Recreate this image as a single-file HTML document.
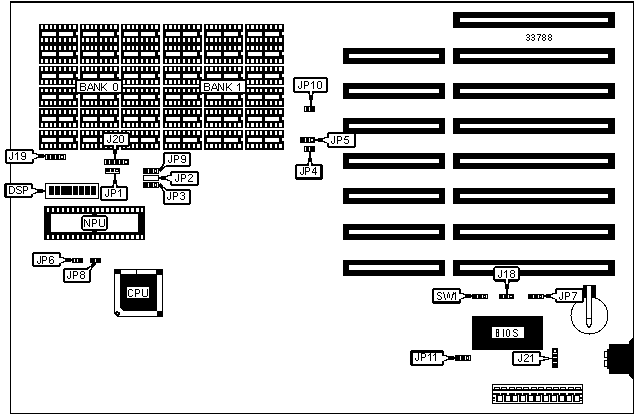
<!DOCTYPE html>
<html><head><meta charset="utf-8"><style>
html,body{margin:0;padding:0;background:#fff;}
svg{display:block;}
</style></head><body>
<svg width="635" height="415" viewBox="0 0 635 415" shape-rendering="crispEdges">
<rect width="635" height="415" fill="#fff"/>
<rect x="10" y="1" width="624" height="2" fill="#000"/>
<rect x="10" y="1" width="1" height="413" fill="#000"/>
<rect x="633" y="1" width="1" height="413" fill="#000"/>
<rect x="10" y="413" width="624" height="1" fill="#000"/>
<rect x="39" y="24" width="39" height="40" fill="#000"/>
<rect x="39" y="66" width="39" height="19" fill="#000"/>
<rect x="39" y="87" width="39" height="20" fill="#000"/>
<rect x="39" y="108" width="39" height="20" fill="#000"/>
<rect x="39" y="130" width="39" height="20" fill="#000"/>
<rect x="41" y="25" width="2" height="4" fill="#fff"/>
<rect x="45" y="25" width="3" height="4" fill="#fff"/>
<rect x="50" y="25" width="2" height="4" fill="#fff"/>
<rect x="54" y="25" width="2" height="4" fill="#fff"/>
<rect x="59" y="25" width="2" height="4" fill="#fff"/>
<rect x="64" y="25" width="2" height="4" fill="#fff"/>
<rect x="69" y="25" width="2" height="4" fill="#fff"/>
<rect x="73" y="25" width="3" height="4" fill="#fff"/>
<rect x="41" y="38" width="2" height="4" fill="#fff"/>
<rect x="45" y="38" width="3" height="4" fill="#fff"/>
<rect x="50" y="38" width="2" height="4" fill="#fff"/>
<rect x="54" y="38" width="2" height="4" fill="#fff"/>
<rect x="59" y="38" width="2" height="4" fill="#fff"/>
<rect x="64" y="38" width="2" height="4" fill="#fff"/>
<rect x="69" y="38" width="2" height="4" fill="#fff"/>
<rect x="73" y="38" width="3" height="4" fill="#fff"/>
<rect x="41" y="46" width="2" height="4" fill="#fff"/>
<rect x="45" y="46" width="3" height="4" fill="#fff"/>
<rect x="50" y="46" width="2" height="4" fill="#fff"/>
<rect x="54" y="46" width="2" height="4" fill="#fff"/>
<rect x="59" y="46" width="2" height="4" fill="#fff"/>
<rect x="64" y="46" width="2" height="4" fill="#fff"/>
<rect x="69" y="46" width="2" height="4" fill="#fff"/>
<rect x="73" y="46" width="3" height="4" fill="#fff"/>
<rect x="41" y="59" width="2" height="4" fill="#fff"/>
<rect x="45" y="59" width="3" height="4" fill="#fff"/>
<rect x="50" y="59" width="2" height="4" fill="#fff"/>
<rect x="54" y="59" width="2" height="4" fill="#fff"/>
<rect x="59" y="59" width="2" height="4" fill="#fff"/>
<rect x="64" y="59" width="2" height="4" fill="#fff"/>
<rect x="69" y="59" width="2" height="4" fill="#fff"/>
<rect x="73" y="59" width="3" height="4" fill="#fff"/>
<rect x="41" y="67" width="2" height="4" fill="#fff"/>
<rect x="45" y="67" width="3" height="4" fill="#fff"/>
<rect x="50" y="67" width="2" height="4" fill="#fff"/>
<rect x="54" y="67" width="2" height="4" fill="#fff"/>
<rect x="59" y="67" width="2" height="4" fill="#fff"/>
<rect x="64" y="67" width="2" height="4" fill="#fff"/>
<rect x="69" y="67" width="2" height="4" fill="#fff"/>
<rect x="73" y="67" width="3" height="4" fill="#fff"/>
<rect x="41" y="80" width="2" height="4" fill="#fff"/>
<rect x="45" y="80" width="3" height="4" fill="#fff"/>
<rect x="50" y="80" width="2" height="4" fill="#fff"/>
<rect x="54" y="80" width="2" height="4" fill="#fff"/>
<rect x="59" y="80" width="2" height="4" fill="#fff"/>
<rect x="64" y="80" width="2" height="4" fill="#fff"/>
<rect x="69" y="80" width="2" height="4" fill="#fff"/>
<rect x="73" y="80" width="3" height="4" fill="#fff"/>
<rect x="41" y="89" width="2" height="3" fill="#fff"/>
<rect x="45" y="89" width="3" height="3" fill="#fff"/>
<rect x="50" y="89" width="2" height="3" fill="#fff"/>
<rect x="54" y="89" width="2" height="3" fill="#fff"/>
<rect x="59" y="89" width="2" height="3" fill="#fff"/>
<rect x="64" y="89" width="2" height="3" fill="#fff"/>
<rect x="69" y="89" width="2" height="3" fill="#fff"/>
<rect x="73" y="89" width="3" height="3" fill="#fff"/>
<rect x="41" y="101" width="2" height="4" fill="#fff"/>
<rect x="45" y="101" width="3" height="4" fill="#fff"/>
<rect x="50" y="101" width="2" height="4" fill="#fff"/>
<rect x="54" y="101" width="2" height="4" fill="#fff"/>
<rect x="59" y="101" width="2" height="4" fill="#fff"/>
<rect x="64" y="101" width="2" height="4" fill="#fff"/>
<rect x="69" y="101" width="2" height="4" fill="#fff"/>
<rect x="73" y="101" width="3" height="4" fill="#fff"/>
<rect x="41" y="110" width="2" height="4" fill="#fff"/>
<rect x="45" y="110" width="3" height="4" fill="#fff"/>
<rect x="50" y="110" width="2" height="4" fill="#fff"/>
<rect x="54" y="110" width="2" height="4" fill="#fff"/>
<rect x="59" y="110" width="2" height="4" fill="#fff"/>
<rect x="64" y="110" width="2" height="4" fill="#fff"/>
<rect x="69" y="110" width="2" height="4" fill="#fff"/>
<rect x="73" y="110" width="3" height="4" fill="#fff"/>
<rect x="41" y="123" width="2" height="4" fill="#fff"/>
<rect x="45" y="123" width="3" height="4" fill="#fff"/>
<rect x="50" y="123" width="2" height="4" fill="#fff"/>
<rect x="54" y="123" width="2" height="4" fill="#fff"/>
<rect x="59" y="123" width="2" height="4" fill="#fff"/>
<rect x="64" y="123" width="2" height="4" fill="#fff"/>
<rect x="69" y="123" width="2" height="4" fill="#fff"/>
<rect x="73" y="123" width="3" height="4" fill="#fff"/>
<rect x="41" y="131" width="2" height="4" fill="#fff"/>
<rect x="45" y="131" width="3" height="4" fill="#fff"/>
<rect x="50" y="131" width="2" height="4" fill="#fff"/>
<rect x="54" y="131" width="2" height="4" fill="#fff"/>
<rect x="59" y="131" width="2" height="4" fill="#fff"/>
<rect x="64" y="131" width="2" height="4" fill="#fff"/>
<rect x="69" y="131" width="2" height="4" fill="#fff"/>
<rect x="73" y="131" width="3" height="4" fill="#fff"/>
<rect x="41" y="144" width="2" height="4" fill="#fff"/>
<rect x="45" y="144" width="3" height="4" fill="#fff"/>
<rect x="50" y="144" width="2" height="4" fill="#fff"/>
<rect x="54" y="144" width="2" height="4" fill="#fff"/>
<rect x="59" y="144" width="2" height="4" fill="#fff"/>
<rect x="64" y="144" width="2" height="4" fill="#fff"/>
<rect x="69" y="144" width="2" height="4" fill="#fff"/>
<rect x="73" y="144" width="3" height="4" fill="#fff"/>
<rect x="42" y="32" width="14" height="4" fill="#fff"/>
<rect x="59" y="32" width="14" height="4" fill="#fff"/>
<rect x="76" y="32" width="2" height="3" fill="#fff"/>
<rect x="42" y="52" width="14" height="4" fill="#fff"/>
<rect x="59" y="52" width="14" height="4" fill="#fff"/>
<rect x="76" y="52" width="2" height="3" fill="#fff"/>
<rect x="42" y="74" width="14" height="4" fill="#fff"/>
<rect x="59" y="74" width="14" height="4" fill="#fff"/>
<rect x="76" y="74" width="2" height="3" fill="#fff"/>
<rect x="42" y="95" width="14" height="4" fill="#fff"/>
<rect x="59" y="95" width="14" height="4" fill="#fff"/>
<rect x="76" y="95" width="2" height="3" fill="#fff"/>
<rect x="42" y="117" width="14" height="4" fill="#fff"/>
<rect x="59" y="117" width="14" height="4" fill="#fff"/>
<rect x="76" y="117" width="2" height="3" fill="#fff"/>
<rect x="42" y="138" width="14" height="4" fill="#fff"/>
<rect x="59" y="138" width="14" height="4" fill="#fff"/>
<rect x="76" y="138" width="2" height="3" fill="#fff"/>
<rect x="80" y="24" width="39" height="40" fill="#000"/>
<rect x="80" y="66" width="39" height="19" fill="#000"/>
<rect x="80" y="87" width="39" height="20" fill="#000"/>
<rect x="80" y="108" width="39" height="20" fill="#000"/>
<rect x="80" y="130" width="39" height="20" fill="#000"/>
<rect x="82" y="25" width="2" height="4" fill="#fff"/>
<rect x="86" y="25" width="3" height="4" fill="#fff"/>
<rect x="91" y="25" width="2" height="4" fill="#fff"/>
<rect x="95" y="25" width="2" height="4" fill="#fff"/>
<rect x="100" y="25" width="2" height="4" fill="#fff"/>
<rect x="105" y="25" width="2" height="4" fill="#fff"/>
<rect x="110" y="25" width="2" height="4" fill="#fff"/>
<rect x="114" y="25" width="3" height="4" fill="#fff"/>
<rect x="82" y="38" width="2" height="4" fill="#fff"/>
<rect x="86" y="38" width="3" height="4" fill="#fff"/>
<rect x="91" y="38" width="2" height="4" fill="#fff"/>
<rect x="95" y="38" width="2" height="4" fill="#fff"/>
<rect x="100" y="38" width="2" height="4" fill="#fff"/>
<rect x="105" y="38" width="2" height="4" fill="#fff"/>
<rect x="110" y="38" width="2" height="4" fill="#fff"/>
<rect x="114" y="38" width="3" height="4" fill="#fff"/>
<rect x="82" y="46" width="2" height="4" fill="#fff"/>
<rect x="86" y="46" width="3" height="4" fill="#fff"/>
<rect x="91" y="46" width="2" height="4" fill="#fff"/>
<rect x="95" y="46" width="2" height="4" fill="#fff"/>
<rect x="100" y="46" width="2" height="4" fill="#fff"/>
<rect x="105" y="46" width="2" height="4" fill="#fff"/>
<rect x="110" y="46" width="2" height="4" fill="#fff"/>
<rect x="114" y="46" width="3" height="4" fill="#fff"/>
<rect x="82" y="59" width="2" height="4" fill="#fff"/>
<rect x="86" y="59" width="3" height="4" fill="#fff"/>
<rect x="91" y="59" width="2" height="4" fill="#fff"/>
<rect x="95" y="59" width="2" height="4" fill="#fff"/>
<rect x="100" y="59" width="2" height="4" fill="#fff"/>
<rect x="105" y="59" width="2" height="4" fill="#fff"/>
<rect x="110" y="59" width="2" height="4" fill="#fff"/>
<rect x="114" y="59" width="3" height="4" fill="#fff"/>
<rect x="82" y="67" width="2" height="4" fill="#fff"/>
<rect x="86" y="67" width="3" height="4" fill="#fff"/>
<rect x="91" y="67" width="2" height="4" fill="#fff"/>
<rect x="95" y="67" width="2" height="4" fill="#fff"/>
<rect x="100" y="67" width="2" height="4" fill="#fff"/>
<rect x="105" y="67" width="2" height="4" fill="#fff"/>
<rect x="110" y="67" width="2" height="4" fill="#fff"/>
<rect x="114" y="67" width="3" height="4" fill="#fff"/>
<rect x="82" y="80" width="2" height="4" fill="#fff"/>
<rect x="86" y="80" width="3" height="4" fill="#fff"/>
<rect x="91" y="80" width="2" height="4" fill="#fff"/>
<rect x="95" y="80" width="2" height="4" fill="#fff"/>
<rect x="100" y="80" width="2" height="4" fill="#fff"/>
<rect x="105" y="80" width="2" height="4" fill="#fff"/>
<rect x="110" y="80" width="2" height="4" fill="#fff"/>
<rect x="114" y="80" width="3" height="4" fill="#fff"/>
<rect x="82" y="89" width="2" height="3" fill="#fff"/>
<rect x="86" y="89" width="3" height="3" fill="#fff"/>
<rect x="91" y="89" width="2" height="3" fill="#fff"/>
<rect x="95" y="89" width="2" height="3" fill="#fff"/>
<rect x="100" y="89" width="2" height="3" fill="#fff"/>
<rect x="105" y="89" width="2" height="3" fill="#fff"/>
<rect x="110" y="89" width="2" height="3" fill="#fff"/>
<rect x="114" y="89" width="3" height="3" fill="#fff"/>
<rect x="82" y="101" width="2" height="4" fill="#fff"/>
<rect x="86" y="101" width="3" height="4" fill="#fff"/>
<rect x="91" y="101" width="2" height="4" fill="#fff"/>
<rect x="95" y="101" width="2" height="4" fill="#fff"/>
<rect x="100" y="101" width="2" height="4" fill="#fff"/>
<rect x="105" y="101" width="2" height="4" fill="#fff"/>
<rect x="110" y="101" width="2" height="4" fill="#fff"/>
<rect x="114" y="101" width="3" height="4" fill="#fff"/>
<rect x="82" y="110" width="2" height="4" fill="#fff"/>
<rect x="86" y="110" width="3" height="4" fill="#fff"/>
<rect x="91" y="110" width="2" height="4" fill="#fff"/>
<rect x="95" y="110" width="2" height="4" fill="#fff"/>
<rect x="100" y="110" width="2" height="4" fill="#fff"/>
<rect x="105" y="110" width="2" height="4" fill="#fff"/>
<rect x="110" y="110" width="2" height="4" fill="#fff"/>
<rect x="114" y="110" width="3" height="4" fill="#fff"/>
<rect x="82" y="123" width="2" height="4" fill="#fff"/>
<rect x="86" y="123" width="3" height="4" fill="#fff"/>
<rect x="91" y="123" width="2" height="4" fill="#fff"/>
<rect x="95" y="123" width="2" height="4" fill="#fff"/>
<rect x="100" y="123" width="2" height="4" fill="#fff"/>
<rect x="105" y="123" width="2" height="4" fill="#fff"/>
<rect x="110" y="123" width="2" height="4" fill="#fff"/>
<rect x="114" y="123" width="3" height="4" fill="#fff"/>
<rect x="82" y="131" width="2" height="4" fill="#fff"/>
<rect x="86" y="131" width="3" height="4" fill="#fff"/>
<rect x="91" y="131" width="2" height="4" fill="#fff"/>
<rect x="95" y="131" width="2" height="4" fill="#fff"/>
<rect x="100" y="131" width="2" height="4" fill="#fff"/>
<rect x="105" y="131" width="2" height="4" fill="#fff"/>
<rect x="110" y="131" width="2" height="4" fill="#fff"/>
<rect x="114" y="131" width="3" height="4" fill="#fff"/>
<rect x="82" y="144" width="2" height="4" fill="#fff"/>
<rect x="86" y="144" width="3" height="4" fill="#fff"/>
<rect x="91" y="144" width="2" height="4" fill="#fff"/>
<rect x="95" y="144" width="2" height="4" fill="#fff"/>
<rect x="100" y="144" width="2" height="4" fill="#fff"/>
<rect x="105" y="144" width="2" height="4" fill="#fff"/>
<rect x="110" y="144" width="2" height="4" fill="#fff"/>
<rect x="114" y="144" width="3" height="4" fill="#fff"/>
<rect x="83" y="32" width="14" height="4" fill="#fff"/>
<rect x="100" y="32" width="14" height="4" fill="#fff"/>
<rect x="117" y="32" width="2" height="3" fill="#fff"/>
<rect x="83" y="52" width="14" height="4" fill="#fff"/>
<rect x="100" y="52" width="14" height="4" fill="#fff"/>
<rect x="117" y="52" width="2" height="3" fill="#fff"/>
<rect x="83" y="74" width="14" height="4" fill="#fff"/>
<rect x="100" y="74" width="14" height="4" fill="#fff"/>
<rect x="117" y="74" width="2" height="3" fill="#fff"/>
<rect x="83" y="95" width="14" height="4" fill="#fff"/>
<rect x="100" y="95" width="14" height="4" fill="#fff"/>
<rect x="117" y="95" width="2" height="3" fill="#fff"/>
<rect x="83" y="117" width="14" height="4" fill="#fff"/>
<rect x="100" y="117" width="14" height="4" fill="#fff"/>
<rect x="117" y="117" width="2" height="3" fill="#fff"/>
<rect x="83" y="138" width="14" height="4" fill="#fff"/>
<rect x="100" y="138" width="14" height="4" fill="#fff"/>
<rect x="117" y="138" width="2" height="3" fill="#fff"/>
<rect x="121" y="24" width="39" height="40" fill="#000"/>
<rect x="121" y="66" width="39" height="19" fill="#000"/>
<rect x="121" y="87" width="39" height="20" fill="#000"/>
<rect x="121" y="108" width="39" height="20" fill="#000"/>
<rect x="121" y="130" width="39" height="20" fill="#000"/>
<rect x="123" y="25" width="2" height="4" fill="#fff"/>
<rect x="127" y="25" width="3" height="4" fill="#fff"/>
<rect x="132" y="25" width="2" height="4" fill="#fff"/>
<rect x="136" y="25" width="2" height="4" fill="#fff"/>
<rect x="141" y="25" width="2" height="4" fill="#fff"/>
<rect x="146" y="25" width="2" height="4" fill="#fff"/>
<rect x="151" y="25" width="2" height="4" fill="#fff"/>
<rect x="155" y="25" width="3" height="4" fill="#fff"/>
<rect x="123" y="38" width="2" height="4" fill="#fff"/>
<rect x="127" y="38" width="3" height="4" fill="#fff"/>
<rect x="132" y="38" width="2" height="4" fill="#fff"/>
<rect x="136" y="38" width="2" height="4" fill="#fff"/>
<rect x="141" y="38" width="2" height="4" fill="#fff"/>
<rect x="146" y="38" width="2" height="4" fill="#fff"/>
<rect x="151" y="38" width="2" height="4" fill="#fff"/>
<rect x="155" y="38" width="3" height="4" fill="#fff"/>
<rect x="123" y="46" width="2" height="4" fill="#fff"/>
<rect x="127" y="46" width="3" height="4" fill="#fff"/>
<rect x="132" y="46" width="2" height="4" fill="#fff"/>
<rect x="136" y="46" width="2" height="4" fill="#fff"/>
<rect x="141" y="46" width="2" height="4" fill="#fff"/>
<rect x="146" y="46" width="2" height="4" fill="#fff"/>
<rect x="151" y="46" width="2" height="4" fill="#fff"/>
<rect x="155" y="46" width="3" height="4" fill="#fff"/>
<rect x="123" y="59" width="2" height="4" fill="#fff"/>
<rect x="127" y="59" width="3" height="4" fill="#fff"/>
<rect x="132" y="59" width="2" height="4" fill="#fff"/>
<rect x="136" y="59" width="2" height="4" fill="#fff"/>
<rect x="141" y="59" width="2" height="4" fill="#fff"/>
<rect x="146" y="59" width="2" height="4" fill="#fff"/>
<rect x="151" y="59" width="2" height="4" fill="#fff"/>
<rect x="155" y="59" width="3" height="4" fill="#fff"/>
<rect x="123" y="67" width="2" height="4" fill="#fff"/>
<rect x="127" y="67" width="3" height="4" fill="#fff"/>
<rect x="132" y="67" width="2" height="4" fill="#fff"/>
<rect x="136" y="67" width="2" height="4" fill="#fff"/>
<rect x="141" y="67" width="2" height="4" fill="#fff"/>
<rect x="146" y="67" width="2" height="4" fill="#fff"/>
<rect x="151" y="67" width="2" height="4" fill="#fff"/>
<rect x="155" y="67" width="3" height="4" fill="#fff"/>
<rect x="123" y="80" width="2" height="4" fill="#fff"/>
<rect x="127" y="80" width="3" height="4" fill="#fff"/>
<rect x="132" y="80" width="2" height="4" fill="#fff"/>
<rect x="136" y="80" width="2" height="4" fill="#fff"/>
<rect x="141" y="80" width="2" height="4" fill="#fff"/>
<rect x="146" y="80" width="2" height="4" fill="#fff"/>
<rect x="151" y="80" width="2" height="4" fill="#fff"/>
<rect x="155" y="80" width="3" height="4" fill="#fff"/>
<rect x="123" y="89" width="2" height="3" fill="#fff"/>
<rect x="127" y="89" width="3" height="3" fill="#fff"/>
<rect x="132" y="89" width="2" height="3" fill="#fff"/>
<rect x="136" y="89" width="2" height="3" fill="#fff"/>
<rect x="141" y="89" width="2" height="3" fill="#fff"/>
<rect x="146" y="89" width="2" height="3" fill="#fff"/>
<rect x="151" y="89" width="2" height="3" fill="#fff"/>
<rect x="155" y="89" width="3" height="3" fill="#fff"/>
<rect x="123" y="101" width="2" height="4" fill="#fff"/>
<rect x="127" y="101" width="3" height="4" fill="#fff"/>
<rect x="132" y="101" width="2" height="4" fill="#fff"/>
<rect x="136" y="101" width="2" height="4" fill="#fff"/>
<rect x="141" y="101" width="2" height="4" fill="#fff"/>
<rect x="146" y="101" width="2" height="4" fill="#fff"/>
<rect x="151" y="101" width="2" height="4" fill="#fff"/>
<rect x="155" y="101" width="3" height="4" fill="#fff"/>
<rect x="123" y="110" width="2" height="4" fill="#fff"/>
<rect x="127" y="110" width="3" height="4" fill="#fff"/>
<rect x="132" y="110" width="2" height="4" fill="#fff"/>
<rect x="136" y="110" width="2" height="4" fill="#fff"/>
<rect x="141" y="110" width="2" height="4" fill="#fff"/>
<rect x="146" y="110" width="2" height="4" fill="#fff"/>
<rect x="151" y="110" width="2" height="4" fill="#fff"/>
<rect x="155" y="110" width="3" height="4" fill="#fff"/>
<rect x="123" y="123" width="2" height="4" fill="#fff"/>
<rect x="127" y="123" width="3" height="4" fill="#fff"/>
<rect x="132" y="123" width="2" height="4" fill="#fff"/>
<rect x="136" y="123" width="2" height="4" fill="#fff"/>
<rect x="141" y="123" width="2" height="4" fill="#fff"/>
<rect x="146" y="123" width="2" height="4" fill="#fff"/>
<rect x="151" y="123" width="2" height="4" fill="#fff"/>
<rect x="155" y="123" width="3" height="4" fill="#fff"/>
<rect x="123" y="131" width="2" height="4" fill="#fff"/>
<rect x="127" y="131" width="3" height="4" fill="#fff"/>
<rect x="132" y="131" width="2" height="4" fill="#fff"/>
<rect x="136" y="131" width="2" height="4" fill="#fff"/>
<rect x="141" y="131" width="2" height="4" fill="#fff"/>
<rect x="146" y="131" width="2" height="4" fill="#fff"/>
<rect x="151" y="131" width="2" height="4" fill="#fff"/>
<rect x="155" y="131" width="3" height="4" fill="#fff"/>
<rect x="123" y="144" width="2" height="4" fill="#fff"/>
<rect x="127" y="144" width="3" height="4" fill="#fff"/>
<rect x="132" y="144" width="2" height="4" fill="#fff"/>
<rect x="136" y="144" width="2" height="4" fill="#fff"/>
<rect x="141" y="144" width="2" height="4" fill="#fff"/>
<rect x="146" y="144" width="2" height="4" fill="#fff"/>
<rect x="151" y="144" width="2" height="4" fill="#fff"/>
<rect x="155" y="144" width="3" height="4" fill="#fff"/>
<rect x="124" y="32" width="14" height="4" fill="#fff"/>
<rect x="141" y="32" width="14" height="4" fill="#fff"/>
<rect x="158" y="32" width="2" height="3" fill="#fff"/>
<rect x="124" y="52" width="14" height="4" fill="#fff"/>
<rect x="141" y="52" width="14" height="4" fill="#fff"/>
<rect x="158" y="52" width="2" height="3" fill="#fff"/>
<rect x="124" y="74" width="14" height="4" fill="#fff"/>
<rect x="141" y="74" width="14" height="4" fill="#fff"/>
<rect x="158" y="74" width="2" height="3" fill="#fff"/>
<rect x="124" y="95" width="14" height="4" fill="#fff"/>
<rect x="141" y="95" width="14" height="4" fill="#fff"/>
<rect x="158" y="95" width="2" height="3" fill="#fff"/>
<rect x="124" y="117" width="14" height="4" fill="#fff"/>
<rect x="141" y="117" width="14" height="4" fill="#fff"/>
<rect x="158" y="117" width="2" height="3" fill="#fff"/>
<rect x="124" y="138" width="14" height="4" fill="#fff"/>
<rect x="141" y="138" width="14" height="4" fill="#fff"/>
<rect x="158" y="138" width="2" height="3" fill="#fff"/>
<rect x="163" y="24" width="39" height="40" fill="#000"/>
<rect x="163" y="66" width="39" height="19" fill="#000"/>
<rect x="163" y="87" width="39" height="20" fill="#000"/>
<rect x="163" y="108" width="39" height="20" fill="#000"/>
<rect x="163" y="130" width="39" height="20" fill="#000"/>
<rect x="165" y="25" width="2" height="4" fill="#fff"/>
<rect x="169" y="25" width="3" height="4" fill="#fff"/>
<rect x="174" y="25" width="2" height="4" fill="#fff"/>
<rect x="178" y="25" width="2" height="4" fill="#fff"/>
<rect x="183" y="25" width="2" height="4" fill="#fff"/>
<rect x="188" y="25" width="2" height="4" fill="#fff"/>
<rect x="193" y="25" width="2" height="4" fill="#fff"/>
<rect x="197" y="25" width="3" height="4" fill="#fff"/>
<rect x="165" y="38" width="2" height="4" fill="#fff"/>
<rect x="169" y="38" width="3" height="4" fill="#fff"/>
<rect x="174" y="38" width="2" height="4" fill="#fff"/>
<rect x="178" y="38" width="2" height="4" fill="#fff"/>
<rect x="183" y="38" width="2" height="4" fill="#fff"/>
<rect x="188" y="38" width="2" height="4" fill="#fff"/>
<rect x="193" y="38" width="2" height="4" fill="#fff"/>
<rect x="197" y="38" width="3" height="4" fill="#fff"/>
<rect x="165" y="46" width="2" height="4" fill="#fff"/>
<rect x="169" y="46" width="3" height="4" fill="#fff"/>
<rect x="174" y="46" width="2" height="4" fill="#fff"/>
<rect x="178" y="46" width="2" height="4" fill="#fff"/>
<rect x="183" y="46" width="2" height="4" fill="#fff"/>
<rect x="188" y="46" width="2" height="4" fill="#fff"/>
<rect x="193" y="46" width="2" height="4" fill="#fff"/>
<rect x="197" y="46" width="3" height="4" fill="#fff"/>
<rect x="165" y="59" width="2" height="4" fill="#fff"/>
<rect x="169" y="59" width="3" height="4" fill="#fff"/>
<rect x="174" y="59" width="2" height="4" fill="#fff"/>
<rect x="178" y="59" width="2" height="4" fill="#fff"/>
<rect x="183" y="59" width="2" height="4" fill="#fff"/>
<rect x="188" y="59" width="2" height="4" fill="#fff"/>
<rect x="193" y="59" width="2" height="4" fill="#fff"/>
<rect x="197" y="59" width="3" height="4" fill="#fff"/>
<rect x="165" y="67" width="2" height="4" fill="#fff"/>
<rect x="169" y="67" width="3" height="4" fill="#fff"/>
<rect x="174" y="67" width="2" height="4" fill="#fff"/>
<rect x="178" y="67" width="2" height="4" fill="#fff"/>
<rect x="183" y="67" width="2" height="4" fill="#fff"/>
<rect x="188" y="67" width="2" height="4" fill="#fff"/>
<rect x="193" y="67" width="2" height="4" fill="#fff"/>
<rect x="197" y="67" width="3" height="4" fill="#fff"/>
<rect x="165" y="80" width="2" height="4" fill="#fff"/>
<rect x="169" y="80" width="3" height="4" fill="#fff"/>
<rect x="174" y="80" width="2" height="4" fill="#fff"/>
<rect x="178" y="80" width="2" height="4" fill="#fff"/>
<rect x="183" y="80" width="2" height="4" fill="#fff"/>
<rect x="188" y="80" width="2" height="4" fill="#fff"/>
<rect x="193" y="80" width="2" height="4" fill="#fff"/>
<rect x="197" y="80" width="3" height="4" fill="#fff"/>
<rect x="165" y="89" width="2" height="3" fill="#fff"/>
<rect x="169" y="89" width="3" height="3" fill="#fff"/>
<rect x="174" y="89" width="2" height="3" fill="#fff"/>
<rect x="178" y="89" width="2" height="3" fill="#fff"/>
<rect x="183" y="89" width="2" height="3" fill="#fff"/>
<rect x="188" y="89" width="2" height="3" fill="#fff"/>
<rect x="193" y="89" width="2" height="3" fill="#fff"/>
<rect x="197" y="89" width="3" height="3" fill="#fff"/>
<rect x="165" y="101" width="2" height="4" fill="#fff"/>
<rect x="169" y="101" width="3" height="4" fill="#fff"/>
<rect x="174" y="101" width="2" height="4" fill="#fff"/>
<rect x="178" y="101" width="2" height="4" fill="#fff"/>
<rect x="183" y="101" width="2" height="4" fill="#fff"/>
<rect x="188" y="101" width="2" height="4" fill="#fff"/>
<rect x="193" y="101" width="2" height="4" fill="#fff"/>
<rect x="197" y="101" width="3" height="4" fill="#fff"/>
<rect x="165" y="110" width="2" height="4" fill="#fff"/>
<rect x="169" y="110" width="3" height="4" fill="#fff"/>
<rect x="174" y="110" width="2" height="4" fill="#fff"/>
<rect x="178" y="110" width="2" height="4" fill="#fff"/>
<rect x="183" y="110" width="2" height="4" fill="#fff"/>
<rect x="188" y="110" width="2" height="4" fill="#fff"/>
<rect x="193" y="110" width="2" height="4" fill="#fff"/>
<rect x="197" y="110" width="3" height="4" fill="#fff"/>
<rect x="165" y="123" width="2" height="4" fill="#fff"/>
<rect x="169" y="123" width="3" height="4" fill="#fff"/>
<rect x="174" y="123" width="2" height="4" fill="#fff"/>
<rect x="178" y="123" width="2" height="4" fill="#fff"/>
<rect x="183" y="123" width="2" height="4" fill="#fff"/>
<rect x="188" y="123" width="2" height="4" fill="#fff"/>
<rect x="193" y="123" width="2" height="4" fill="#fff"/>
<rect x="197" y="123" width="3" height="4" fill="#fff"/>
<rect x="165" y="131" width="2" height="4" fill="#fff"/>
<rect x="169" y="131" width="3" height="4" fill="#fff"/>
<rect x="174" y="131" width="2" height="4" fill="#fff"/>
<rect x="178" y="131" width="2" height="4" fill="#fff"/>
<rect x="183" y="131" width="2" height="4" fill="#fff"/>
<rect x="188" y="131" width="2" height="4" fill="#fff"/>
<rect x="193" y="131" width="2" height="4" fill="#fff"/>
<rect x="197" y="131" width="3" height="4" fill="#fff"/>
<rect x="165" y="144" width="2" height="4" fill="#fff"/>
<rect x="169" y="144" width="3" height="4" fill="#fff"/>
<rect x="174" y="144" width="2" height="4" fill="#fff"/>
<rect x="178" y="144" width="2" height="4" fill="#fff"/>
<rect x="183" y="144" width="2" height="4" fill="#fff"/>
<rect x="188" y="144" width="2" height="4" fill="#fff"/>
<rect x="193" y="144" width="2" height="4" fill="#fff"/>
<rect x="197" y="144" width="3" height="4" fill="#fff"/>
<rect x="166" y="32" width="14" height="4" fill="#fff"/>
<rect x="183" y="32" width="14" height="4" fill="#fff"/>
<rect x="200" y="32" width="2" height="3" fill="#fff"/>
<rect x="166" y="52" width="14" height="4" fill="#fff"/>
<rect x="183" y="52" width="14" height="4" fill="#fff"/>
<rect x="200" y="52" width="2" height="3" fill="#fff"/>
<rect x="166" y="74" width="14" height="4" fill="#fff"/>
<rect x="183" y="74" width="14" height="4" fill="#fff"/>
<rect x="200" y="74" width="2" height="3" fill="#fff"/>
<rect x="166" y="95" width="14" height="4" fill="#fff"/>
<rect x="183" y="95" width="14" height="4" fill="#fff"/>
<rect x="200" y="95" width="2" height="3" fill="#fff"/>
<rect x="166" y="117" width="14" height="4" fill="#fff"/>
<rect x="183" y="117" width="14" height="4" fill="#fff"/>
<rect x="200" y="117" width="2" height="3" fill="#fff"/>
<rect x="166" y="138" width="14" height="4" fill="#fff"/>
<rect x="183" y="138" width="14" height="4" fill="#fff"/>
<rect x="200" y="138" width="2" height="3" fill="#fff"/>
<rect x="204" y="24" width="39" height="40" fill="#000"/>
<rect x="204" y="66" width="39" height="19" fill="#000"/>
<rect x="204" y="87" width="39" height="20" fill="#000"/>
<rect x="204" y="108" width="39" height="20" fill="#000"/>
<rect x="204" y="130" width="39" height="20" fill="#000"/>
<rect x="206" y="25" width="2" height="4" fill="#fff"/>
<rect x="210" y="25" width="3" height="4" fill="#fff"/>
<rect x="215" y="25" width="2" height="4" fill="#fff"/>
<rect x="219" y="25" width="2" height="4" fill="#fff"/>
<rect x="224" y="25" width="2" height="4" fill="#fff"/>
<rect x="229" y="25" width="2" height="4" fill="#fff"/>
<rect x="234" y="25" width="2" height="4" fill="#fff"/>
<rect x="238" y="25" width="3" height="4" fill="#fff"/>
<rect x="206" y="38" width="2" height="4" fill="#fff"/>
<rect x="210" y="38" width="3" height="4" fill="#fff"/>
<rect x="215" y="38" width="2" height="4" fill="#fff"/>
<rect x="219" y="38" width="2" height="4" fill="#fff"/>
<rect x="224" y="38" width="2" height="4" fill="#fff"/>
<rect x="229" y="38" width="2" height="4" fill="#fff"/>
<rect x="234" y="38" width="2" height="4" fill="#fff"/>
<rect x="238" y="38" width="3" height="4" fill="#fff"/>
<rect x="206" y="46" width="2" height="4" fill="#fff"/>
<rect x="210" y="46" width="3" height="4" fill="#fff"/>
<rect x="215" y="46" width="2" height="4" fill="#fff"/>
<rect x="219" y="46" width="2" height="4" fill="#fff"/>
<rect x="224" y="46" width="2" height="4" fill="#fff"/>
<rect x="229" y="46" width="2" height="4" fill="#fff"/>
<rect x="234" y="46" width="2" height="4" fill="#fff"/>
<rect x="238" y="46" width="3" height="4" fill="#fff"/>
<rect x="206" y="59" width="2" height="4" fill="#fff"/>
<rect x="210" y="59" width="3" height="4" fill="#fff"/>
<rect x="215" y="59" width="2" height="4" fill="#fff"/>
<rect x="219" y="59" width="2" height="4" fill="#fff"/>
<rect x="224" y="59" width="2" height="4" fill="#fff"/>
<rect x="229" y="59" width="2" height="4" fill="#fff"/>
<rect x="234" y="59" width="2" height="4" fill="#fff"/>
<rect x="238" y="59" width="3" height="4" fill="#fff"/>
<rect x="206" y="67" width="2" height="4" fill="#fff"/>
<rect x="210" y="67" width="3" height="4" fill="#fff"/>
<rect x="215" y="67" width="2" height="4" fill="#fff"/>
<rect x="219" y="67" width="2" height="4" fill="#fff"/>
<rect x="224" y="67" width="2" height="4" fill="#fff"/>
<rect x="229" y="67" width="2" height="4" fill="#fff"/>
<rect x="234" y="67" width="2" height="4" fill="#fff"/>
<rect x="238" y="67" width="3" height="4" fill="#fff"/>
<rect x="206" y="80" width="2" height="4" fill="#fff"/>
<rect x="210" y="80" width="3" height="4" fill="#fff"/>
<rect x="215" y="80" width="2" height="4" fill="#fff"/>
<rect x="219" y="80" width="2" height="4" fill="#fff"/>
<rect x="224" y="80" width="2" height="4" fill="#fff"/>
<rect x="229" y="80" width="2" height="4" fill="#fff"/>
<rect x="234" y="80" width="2" height="4" fill="#fff"/>
<rect x="238" y="80" width="3" height="4" fill="#fff"/>
<rect x="206" y="89" width="2" height="3" fill="#fff"/>
<rect x="210" y="89" width="3" height="3" fill="#fff"/>
<rect x="215" y="89" width="2" height="3" fill="#fff"/>
<rect x="219" y="89" width="2" height="3" fill="#fff"/>
<rect x="224" y="89" width="2" height="3" fill="#fff"/>
<rect x="229" y="89" width="2" height="3" fill="#fff"/>
<rect x="234" y="89" width="2" height="3" fill="#fff"/>
<rect x="238" y="89" width="3" height="3" fill="#fff"/>
<rect x="206" y="101" width="2" height="4" fill="#fff"/>
<rect x="210" y="101" width="3" height="4" fill="#fff"/>
<rect x="215" y="101" width="2" height="4" fill="#fff"/>
<rect x="219" y="101" width="2" height="4" fill="#fff"/>
<rect x="224" y="101" width="2" height="4" fill="#fff"/>
<rect x="229" y="101" width="2" height="4" fill="#fff"/>
<rect x="234" y="101" width="2" height="4" fill="#fff"/>
<rect x="238" y="101" width="3" height="4" fill="#fff"/>
<rect x="206" y="110" width="2" height="4" fill="#fff"/>
<rect x="210" y="110" width="3" height="4" fill="#fff"/>
<rect x="215" y="110" width="2" height="4" fill="#fff"/>
<rect x="219" y="110" width="2" height="4" fill="#fff"/>
<rect x="224" y="110" width="2" height="4" fill="#fff"/>
<rect x="229" y="110" width="2" height="4" fill="#fff"/>
<rect x="234" y="110" width="2" height="4" fill="#fff"/>
<rect x="238" y="110" width="3" height="4" fill="#fff"/>
<rect x="206" y="123" width="2" height="4" fill="#fff"/>
<rect x="210" y="123" width="3" height="4" fill="#fff"/>
<rect x="215" y="123" width="2" height="4" fill="#fff"/>
<rect x="219" y="123" width="2" height="4" fill="#fff"/>
<rect x="224" y="123" width="2" height="4" fill="#fff"/>
<rect x="229" y="123" width="2" height="4" fill="#fff"/>
<rect x="234" y="123" width="2" height="4" fill="#fff"/>
<rect x="238" y="123" width="3" height="4" fill="#fff"/>
<rect x="206" y="131" width="2" height="4" fill="#fff"/>
<rect x="210" y="131" width="3" height="4" fill="#fff"/>
<rect x="215" y="131" width="2" height="4" fill="#fff"/>
<rect x="219" y="131" width="2" height="4" fill="#fff"/>
<rect x="224" y="131" width="2" height="4" fill="#fff"/>
<rect x="229" y="131" width="2" height="4" fill="#fff"/>
<rect x="234" y="131" width="2" height="4" fill="#fff"/>
<rect x="238" y="131" width="3" height="4" fill="#fff"/>
<rect x="206" y="144" width="2" height="4" fill="#fff"/>
<rect x="210" y="144" width="3" height="4" fill="#fff"/>
<rect x="215" y="144" width="2" height="4" fill="#fff"/>
<rect x="219" y="144" width="2" height="4" fill="#fff"/>
<rect x="224" y="144" width="2" height="4" fill="#fff"/>
<rect x="229" y="144" width="2" height="4" fill="#fff"/>
<rect x="234" y="144" width="2" height="4" fill="#fff"/>
<rect x="238" y="144" width="3" height="4" fill="#fff"/>
<rect x="207" y="32" width="14" height="4" fill="#fff"/>
<rect x="224" y="32" width="14" height="4" fill="#fff"/>
<rect x="241" y="32" width="2" height="3" fill="#fff"/>
<rect x="207" y="52" width="14" height="4" fill="#fff"/>
<rect x="224" y="52" width="14" height="4" fill="#fff"/>
<rect x="241" y="52" width="2" height="3" fill="#fff"/>
<rect x="207" y="74" width="14" height="4" fill="#fff"/>
<rect x="224" y="74" width="14" height="4" fill="#fff"/>
<rect x="241" y="74" width="2" height="3" fill="#fff"/>
<rect x="207" y="95" width="14" height="4" fill="#fff"/>
<rect x="224" y="95" width="14" height="4" fill="#fff"/>
<rect x="241" y="95" width="2" height="3" fill="#fff"/>
<rect x="207" y="117" width="14" height="4" fill="#fff"/>
<rect x="224" y="117" width="14" height="4" fill="#fff"/>
<rect x="241" y="117" width="2" height="3" fill="#fff"/>
<rect x="207" y="138" width="14" height="4" fill="#fff"/>
<rect x="224" y="138" width="14" height="4" fill="#fff"/>
<rect x="241" y="138" width="2" height="3" fill="#fff"/>
<rect x="245" y="24" width="39" height="40" fill="#000"/>
<rect x="245" y="66" width="39" height="19" fill="#000"/>
<rect x="245" y="87" width="39" height="20" fill="#000"/>
<rect x="245" y="108" width="39" height="20" fill="#000"/>
<rect x="245" y="130" width="39" height="20" fill="#000"/>
<rect x="247" y="25" width="2" height="4" fill="#fff"/>
<rect x="251" y="25" width="3" height="4" fill="#fff"/>
<rect x="256" y="25" width="2" height="4" fill="#fff"/>
<rect x="260" y="25" width="2" height="4" fill="#fff"/>
<rect x="265" y="25" width="2" height="4" fill="#fff"/>
<rect x="270" y="25" width="2" height="4" fill="#fff"/>
<rect x="275" y="25" width="2" height="4" fill="#fff"/>
<rect x="279" y="25" width="3" height="4" fill="#fff"/>
<rect x="247" y="38" width="2" height="4" fill="#fff"/>
<rect x="251" y="38" width="3" height="4" fill="#fff"/>
<rect x="256" y="38" width="2" height="4" fill="#fff"/>
<rect x="260" y="38" width="2" height="4" fill="#fff"/>
<rect x="265" y="38" width="2" height="4" fill="#fff"/>
<rect x="270" y="38" width="2" height="4" fill="#fff"/>
<rect x="275" y="38" width="2" height="4" fill="#fff"/>
<rect x="279" y="38" width="3" height="4" fill="#fff"/>
<rect x="247" y="46" width="2" height="4" fill="#fff"/>
<rect x="251" y="46" width="3" height="4" fill="#fff"/>
<rect x="256" y="46" width="2" height="4" fill="#fff"/>
<rect x="260" y="46" width="2" height="4" fill="#fff"/>
<rect x="265" y="46" width="2" height="4" fill="#fff"/>
<rect x="270" y="46" width="2" height="4" fill="#fff"/>
<rect x="275" y="46" width="2" height="4" fill="#fff"/>
<rect x="279" y="46" width="3" height="4" fill="#fff"/>
<rect x="247" y="59" width="2" height="4" fill="#fff"/>
<rect x="251" y="59" width="3" height="4" fill="#fff"/>
<rect x="256" y="59" width="2" height="4" fill="#fff"/>
<rect x="260" y="59" width="2" height="4" fill="#fff"/>
<rect x="265" y="59" width="2" height="4" fill="#fff"/>
<rect x="270" y="59" width="2" height="4" fill="#fff"/>
<rect x="275" y="59" width="2" height="4" fill="#fff"/>
<rect x="279" y="59" width="3" height="4" fill="#fff"/>
<rect x="247" y="67" width="2" height="4" fill="#fff"/>
<rect x="251" y="67" width="3" height="4" fill="#fff"/>
<rect x="256" y="67" width="2" height="4" fill="#fff"/>
<rect x="260" y="67" width="2" height="4" fill="#fff"/>
<rect x="265" y="67" width="2" height="4" fill="#fff"/>
<rect x="270" y="67" width="2" height="4" fill="#fff"/>
<rect x="275" y="67" width="2" height="4" fill="#fff"/>
<rect x="279" y="67" width="3" height="4" fill="#fff"/>
<rect x="247" y="80" width="2" height="4" fill="#fff"/>
<rect x="251" y="80" width="3" height="4" fill="#fff"/>
<rect x="256" y="80" width="2" height="4" fill="#fff"/>
<rect x="260" y="80" width="2" height="4" fill="#fff"/>
<rect x="265" y="80" width="2" height="4" fill="#fff"/>
<rect x="270" y="80" width="2" height="4" fill="#fff"/>
<rect x="275" y="80" width="2" height="4" fill="#fff"/>
<rect x="279" y="80" width="3" height="4" fill="#fff"/>
<rect x="247" y="89" width="2" height="3" fill="#fff"/>
<rect x="251" y="89" width="3" height="3" fill="#fff"/>
<rect x="256" y="89" width="2" height="3" fill="#fff"/>
<rect x="260" y="89" width="2" height="3" fill="#fff"/>
<rect x="265" y="89" width="2" height="3" fill="#fff"/>
<rect x="270" y="89" width="2" height="3" fill="#fff"/>
<rect x="275" y="89" width="2" height="3" fill="#fff"/>
<rect x="279" y="89" width="3" height="3" fill="#fff"/>
<rect x="247" y="101" width="2" height="4" fill="#fff"/>
<rect x="251" y="101" width="3" height="4" fill="#fff"/>
<rect x="256" y="101" width="2" height="4" fill="#fff"/>
<rect x="260" y="101" width="2" height="4" fill="#fff"/>
<rect x="265" y="101" width="2" height="4" fill="#fff"/>
<rect x="270" y="101" width="2" height="4" fill="#fff"/>
<rect x="275" y="101" width="2" height="4" fill="#fff"/>
<rect x="279" y="101" width="3" height="4" fill="#fff"/>
<rect x="247" y="110" width="2" height="4" fill="#fff"/>
<rect x="251" y="110" width="3" height="4" fill="#fff"/>
<rect x="256" y="110" width="2" height="4" fill="#fff"/>
<rect x="260" y="110" width="2" height="4" fill="#fff"/>
<rect x="265" y="110" width="2" height="4" fill="#fff"/>
<rect x="270" y="110" width="2" height="4" fill="#fff"/>
<rect x="275" y="110" width="2" height="4" fill="#fff"/>
<rect x="279" y="110" width="3" height="4" fill="#fff"/>
<rect x="247" y="123" width="2" height="4" fill="#fff"/>
<rect x="251" y="123" width="3" height="4" fill="#fff"/>
<rect x="256" y="123" width="2" height="4" fill="#fff"/>
<rect x="260" y="123" width="2" height="4" fill="#fff"/>
<rect x="265" y="123" width="2" height="4" fill="#fff"/>
<rect x="270" y="123" width="2" height="4" fill="#fff"/>
<rect x="275" y="123" width="2" height="4" fill="#fff"/>
<rect x="279" y="123" width="3" height="4" fill="#fff"/>
<rect x="247" y="131" width="2" height="4" fill="#fff"/>
<rect x="251" y="131" width="3" height="4" fill="#fff"/>
<rect x="256" y="131" width="2" height="4" fill="#fff"/>
<rect x="260" y="131" width="2" height="4" fill="#fff"/>
<rect x="265" y="131" width="2" height="4" fill="#fff"/>
<rect x="270" y="131" width="2" height="4" fill="#fff"/>
<rect x="275" y="131" width="2" height="4" fill="#fff"/>
<rect x="279" y="131" width="3" height="4" fill="#fff"/>
<rect x="247" y="144" width="2" height="4" fill="#fff"/>
<rect x="251" y="144" width="3" height="4" fill="#fff"/>
<rect x="256" y="144" width="2" height="4" fill="#fff"/>
<rect x="260" y="144" width="2" height="4" fill="#fff"/>
<rect x="265" y="144" width="2" height="4" fill="#fff"/>
<rect x="270" y="144" width="2" height="4" fill="#fff"/>
<rect x="275" y="144" width="2" height="4" fill="#fff"/>
<rect x="279" y="144" width="3" height="4" fill="#fff"/>
<rect x="248" y="32" width="14" height="4" fill="#fff"/>
<rect x="265" y="32" width="14" height="4" fill="#fff"/>
<rect x="282" y="32" width="2" height="3" fill="#fff"/>
<rect x="248" y="52" width="14" height="4" fill="#fff"/>
<rect x="265" y="52" width="14" height="4" fill="#fff"/>
<rect x="282" y="52" width="2" height="3" fill="#fff"/>
<rect x="248" y="74" width="14" height="4" fill="#fff"/>
<rect x="265" y="74" width="14" height="4" fill="#fff"/>
<rect x="282" y="74" width="2" height="3" fill="#fff"/>
<rect x="248" y="95" width="14" height="4" fill="#fff"/>
<rect x="265" y="95" width="14" height="4" fill="#fff"/>
<rect x="282" y="95" width="2" height="3" fill="#fff"/>
<rect x="248" y="117" width="14" height="4" fill="#fff"/>
<rect x="265" y="117" width="14" height="4" fill="#fff"/>
<rect x="282" y="117" width="2" height="3" fill="#fff"/>
<rect x="248" y="138" width="14" height="4" fill="#fff"/>
<rect x="265" y="138" width="14" height="4" fill="#fff"/>
<rect x="282" y="138" width="2" height="3" fill="#fff"/>
<rect x="453" y="12" width="162" height="16" fill="#000"/>
<rect x="460" y="18" width="148" height="4" fill="#fff"/>
<rect x="453" y="48" width="162" height="16" fill="#000"/>
<rect x="460" y="54" width="148" height="4" fill="#fff"/>
<rect x="343" y="48" width="102" height="16" fill="#000"/>
<rect x="349" y="54" width="90" height="4" fill="#fff"/>
<rect x="453" y="83" width="162" height="16" fill="#000"/>
<rect x="460" y="89" width="148" height="4" fill="#fff"/>
<rect x="343" y="83" width="102" height="16" fill="#000"/>
<rect x="349" y="89" width="90" height="4" fill="#fff"/>
<rect x="453" y="118" width="162" height="16" fill="#000"/>
<rect x="460" y="124" width="148" height="4" fill="#fff"/>
<rect x="343" y="118" width="102" height="16" fill="#000"/>
<rect x="349" y="124" width="90" height="4" fill="#fff"/>
<rect x="453" y="153" width="162" height="16" fill="#000"/>
<rect x="460" y="159" width="148" height="4" fill="#fff"/>
<rect x="343" y="153" width="102" height="16" fill="#000"/>
<rect x="349" y="159" width="90" height="4" fill="#fff"/>
<rect x="453" y="188" width="162" height="16" fill="#000"/>
<rect x="460" y="194" width="148" height="4" fill="#fff"/>
<rect x="343" y="188" width="102" height="16" fill="#000"/>
<rect x="349" y="194" width="90" height="4" fill="#fff"/>
<rect x="453" y="224" width="162" height="16" fill="#000"/>
<rect x="460" y="230" width="148" height="4" fill="#fff"/>
<rect x="343" y="224" width="102" height="16" fill="#000"/>
<rect x="349" y="230" width="90" height="4" fill="#fff"/>
<rect x="453" y="260" width="162" height="16" fill="#000"/>
<rect x="460" y="265" width="148" height="5" fill="#fff"/>
<rect x="343" y="260" width="102" height="16" fill="#000"/>
<rect x="349" y="265" width="90" height="5" fill="#fff"/>
<rect x="45" y="154" width="21" height="6" fill="#000"/>
<rect x="46" y="155" width="1" height="4" fill="#fff"/>
<rect x="50" y="155" width="1" height="4" fill="#fff"/>
<rect x="55" y="155" width="1" height="4" fill="#fff"/>
<rect x="59" y="155" width="1" height="4" fill="#fff"/>
<rect x="64" y="155" width="1" height="4" fill="#fff"/>
<rect x="61" y="156" width="2" height="2" fill="#fff"/>
<rect x="6" y="149" width="27" height="15" fill="#000"/>
<rect x="5" y="150" width="29" height="13" fill="#000"/>
<rect x="7" y="151" width="25" height="11" fill="#fff"/>
<polygon points="34.0,159.2 38.5,158.0 43.5,158.0 43.5,157.0 45.0,157.0 45.0,155.0 43.5,155.0 43.5,154.0 38.5,154.0 34.0,152.8" fill="#000"/>
<polygon points="31.4,158.5 34.0,158.5 39.0,156.0 34.0,153.5 31.4,153.5" fill="#fff"/>
<path d="M12 152h1v1h-1zM12 153h1v1h-1zM12 154h1v1h-1zM12 155h1v1h-1zM12 156h1v1h-1zM9 157h1v1h-1zM12 157h1v1h-1zM9 158h1v1h-1zM12 158h1v1h-1zM10 159h2v1h-2zM17 152h1v1h-1zM16 153h2v1h-2zM15 154h1v1h-1zM17 154h1v1h-1zM17 155h1v1h-1zM17 156h1v1h-1zM17 157h1v1h-1zM17 158h1v1h-1zM17 159h1v1h-1zM22 152h3v1h-3zM21 153h1v1h-1zM25 153h1v1h-1zM21 154h1v1h-1zM25 154h1v1h-1zM21 155h1v1h-1zM25 155h1v1h-1zM22 156h4v1h-4zM25 157h1v1h-1zM21 158h1v1h-1zM25 158h1v1h-1zM22 159h3v1h-3z" fill="#000"/>
<rect x="45" y="183" width="54" height="16" fill="#000"/>
<rect x="46" y="184" width="52" height="14" fill="#fff"/>
<rect x="49" y="186" width="5" height="9" fill="#000"/>
<rect x="55" y="186" width="5" height="9" fill="#000"/>
<rect x="61" y="186" width="5" height="9" fill="#000"/>
<rect x="67" y="186" width="5" height="9" fill="#000"/>
<rect x="73" y="186" width="5" height="9" fill="#000"/>
<rect x="79" y="186" width="5" height="9" fill="#000"/>
<rect x="85" y="186" width="5" height="9" fill="#000"/>
<rect x="91" y="186" width="5" height="9" fill="#000"/>
<rect x="66" y="186" width="1" height="9" fill="#000"/>
<rect x="5" y="183" width="27" height="15" fill="#000"/>
<rect x="4" y="184" width="29" height="13" fill="#000"/>
<rect x="7" y="185" width="24" height="11" fill="#fff"/>
<polygon points="33.0,194.2 37.5,193.0 42.5,193.0 42.5,192.0 45.0,192.0 45.0,190.0 42.5,190.0 42.5,189.0 37.5,189.0 33.0,187.8" fill="#000"/>
<polygon points="30.4,193.5 33.0,193.5 38.0,191.0 33.0,188.5 30.4,188.5" fill="#fff"/>
<path d="M9 186h4v1h-4zM9 187h1v1h-1zM13 187h1v1h-1zM9 188h1v1h-1zM14 188h1v1h-1zM9 189h1v1h-1zM14 189h1v1h-1zM9 190h1v1h-1zM14 190h1v1h-1zM9 191h1v1h-1zM14 191h1v1h-1zM9 192h1v1h-1zM13 192h1v1h-1zM9 193h4v1h-4zM17 186h4v1h-4zM16 187h1v1h-1zM21 187h1v1h-1zM16 188h1v1h-1zM17 189h2v1h-2zM19 190h2v1h-2zM21 191h1v1h-1zM16 192h1v1h-1zM21 192h1v1h-1zM17 193h4v1h-4zM23 186h4v1h-4zM23 187h1v1h-1zM27 187h1v1h-1zM23 188h1v1h-1zM27 188h1v1h-1zM23 189h1v1h-1zM27 189h1v1h-1zM23 190h4v1h-4zM23 191h1v1h-1zM23 192h1v1h-1zM23 193h1v1h-1z" fill="#000"/>
<rect x="104" y="159" width="25" height="6" fill="#000"/>
<rect x="105" y="160" width="1" height="4" fill="#fff"/>
<rect x="109" y="160" width="1" height="4" fill="#fff"/>
<rect x="114" y="160" width="1" height="4" fill="#fff"/>
<rect x="119" y="160" width="1" height="4" fill="#fff"/>
<rect x="123" y="160" width="1" height="4" fill="#fff"/>
<rect x="125" y="161" width="2" height="2" fill="#fff"/>
<rect x="103" y="132" width="26" height="15" fill="#000"/>
<rect x="102" y="133" width="28" height="13" fill="#000"/>
<rect x="104" y="134" width="24" height="11" fill="#fff"/>
<polygon points="112.2,147.0 113.0,150.5 113.0,153.5 114.0,153.5 114.0,159.0 116.0,159.0 116.0,153.5 117.0,153.5 117.0,150.5 117.8,147.0" fill="#000"/>
<polygon points="114.0,144.4 114.0,147.0 115.0,151.0 116.0,147.0 116.0,144.4" fill="#fff"/>
<path d="M110 135h1v1h-1zM110 136h1v1h-1zM110 137h1v1h-1zM110 138h1v1h-1zM110 139h1v1h-1zM107 140h1v1h-1zM110 140h1v1h-1zM107 141h1v1h-1zM110 141h1v1h-1zM108 142h2v1h-2zM114 135h3v1h-3zM113 136h1v1h-1zM117 136h1v1h-1zM117 137h1v1h-1zM116 138h1v1h-1zM115 139h1v1h-1zM114 140h1v1h-1zM113 141h1v1h-1zM113 142h5v1h-5zM120 135h3v1h-3zM119 136h1v1h-1zM123 136h1v1h-1zM119 137h1v1h-1zM123 137h1v1h-1zM119 138h1v1h-1zM123 138h1v1h-1zM119 139h1v1h-1zM123 139h1v1h-1zM119 140h1v1h-1zM123 140h1v1h-1zM119 141h1v1h-1zM123 141h1v1h-1zM120 142h3v1h-3z" fill="#000"/>
<rect x="105" y="168" width="15" height="6" fill="#000"/>
<rect x="106" y="172" width="13" height="1" fill="#fff"/>
<rect x="110" y="169" width="1" height="3" fill="#fff"/>
<rect x="114" y="169" width="1" height="3" fill="#fff"/>
<rect x="116" y="170" width="2" height="1" fill="#fff"/>
<rect x="101" y="186" width="26" height="15" fill="#000"/>
<rect x="100" y="187" width="28" height="13" fill="#000"/>
<rect x="102" y="188" width="24" height="11" fill="#fff"/>
<polygon points="117.8,186.0 117.0,182.5 117.0,179.5 116.0,179.5 116.0,174.0 114.0,174.0 114.0,179.5 113.0,179.5 113.0,182.5 112.2,186.0" fill="#000"/>
<polygon points="116.0,188.6 116.0,186.0 115.0,182.0 114.0,186.0 114.0,188.6" fill="#fff"/>
<path d="M108 189h1v1h-1zM108 190h1v1h-1zM108 191h1v1h-1zM108 192h1v1h-1zM108 193h1v1h-1zM105 194h1v1h-1zM108 194h1v1h-1zM105 195h1v1h-1zM108 195h1v1h-1zM106 196h2v1h-2zM111 189h4v1h-4zM111 190h1v1h-1zM115 190h1v1h-1zM111 191h1v1h-1zM115 191h1v1h-1zM111 192h1v1h-1zM115 192h1v1h-1zM111 193h4v1h-4zM111 194h1v1h-1zM111 195h1v1h-1zM111 196h1v1h-1zM120 189h1v1h-1zM119 190h2v1h-2zM118 191h1v1h-1zM120 191h1v1h-1zM120 192h1v1h-1zM120 193h1v1h-1zM120 194h1v1h-1zM120 195h1v1h-1zM120 196h1v1h-1z" fill="#000"/>
<rect x="143" y="168" width="16" height="6" fill="#000"/>
<rect x="148" y="169" width="1" height="4" fill="#fff"/>
<rect x="153" y="169" width="1" height="4" fill="#fff"/>
<rect x="157" y="169" width="1" height="4" fill="#fff"/>
<rect x="155" y="170" width="1" height="2" fill="#fff"/>
<rect x="143" y="175" width="16" height="6" fill="#000"/>
<rect x="144" y="176" width="14" height="4" fill="#fff"/>
<rect x="143" y="182" width="16" height="6" fill="#000"/>
<rect x="148" y="183" width="1" height="4" fill="#fff"/>
<rect x="153" y="183" width="1" height="4" fill="#fff"/>
<rect x="157" y="183" width="1" height="4" fill="#fff"/>
<rect x="155" y="184" width="1" height="2" fill="#fff"/>
<rect x="164" y="152" width="26" height="15" fill="#000"/>
<rect x="163" y="153" width="28" height="13" fill="#000"/>
<rect x="165" y="154" width="24" height="11" fill="#fff"/>
<polygon points="163.16,163.16 161.75,165.99 158.58,169.16 158.58,169.16 157.87,169.87 160.13,172.13 160.84,171.42 160.84,171.42 164.01,168.25 166.84,166.84" fill="#000"/>
<polygon points="165.92,162.81 164.36,164.36 162.53,167.47 165.64,165.64 167.19,164.08" fill="#fff"/>
<path d="M171 155h1v1h-1zM171 156h1v1h-1zM171 157h1v1h-1zM171 158h1v1h-1zM171 159h1v1h-1zM168 160h1v1h-1zM171 160h1v1h-1zM168 161h1v1h-1zM171 161h1v1h-1zM169 162h2v1h-2zM174 155h4v1h-4zM174 156h1v1h-1zM178 156h1v1h-1zM174 157h1v1h-1zM178 157h1v1h-1zM174 158h1v1h-1zM178 158h1v1h-1zM174 159h4v1h-4zM174 160h1v1h-1zM174 161h1v1h-1zM174 162h1v1h-1zM182 155h3v1h-3zM181 156h1v1h-1zM185 156h1v1h-1zM181 157h1v1h-1zM185 157h1v1h-1zM181 158h1v1h-1zM185 158h1v1h-1zM182 159h4v1h-4zM185 160h1v1h-1zM181 161h1v1h-1zM185 161h1v1h-1zM182 162h3v1h-3z" fill="#000"/>
<rect x="171" y="171" width="27" height="15" fill="#000"/>
<rect x="170" y="172" width="29" height="13" fill="#000"/>
<rect x="172" y="173" width="25" height="11" fill="#fff"/>
<polygon points="170.0,174.8 165.5,176.0 160.5,176.0 160.5,177.0 159.0,177.0 159.0,179.0 160.5,179.0 160.5,180.0 165.5,180.0 170.0,181.2" fill="#000"/>
<polygon points="172.6,175.5 170.0,175.5 165.0,178.0 170.0,180.5 172.6,180.5" fill="#fff"/>
<path d="M178 174h1v1h-1zM178 175h1v1h-1zM178 176h1v1h-1zM178 177h1v1h-1zM178 178h1v1h-1zM175 179h1v1h-1zM178 179h1v1h-1zM175 180h1v1h-1zM178 180h1v1h-1zM176 181h2v1h-2zM181 174h4v1h-4zM181 175h1v1h-1zM185 175h1v1h-1zM181 176h1v1h-1zM185 176h1v1h-1zM181 177h1v1h-1zM185 177h1v1h-1zM181 178h4v1h-4zM181 179h1v1h-1zM181 180h1v1h-1zM181 181h1v1h-1zM189 174h3v1h-3zM188 175h1v1h-1zM192 175h1v1h-1zM192 176h1v1h-1zM191 177h1v1h-1zM190 178h1v1h-1zM189 179h1v1h-1zM188 180h1v1h-1zM188 181h5v1h-5z" fill="#000"/>
<rect x="164" y="189" width="26" height="16" fill="#000"/>
<rect x="163" y="190" width="28" height="14" fill="#000"/>
<rect x="165" y="191" width="24" height="12" fill="#fff"/>
<polygon points="166.91,188.74 164.14,187.21 160.85,183.65 160.85,183.65 160.18,182.91 157.82,185.09 158.5,185.82 158.5,185.82 161.79,189.38 163.09,192.26" fill="#000"/>
<polygon points="167.15,191.51 165.66,189.89 162.63,187.93 164.34,191.11 165.83,192.73" fill="#fff"/>
<path d="M170 192h1v1h-1zM170 193h1v1h-1zM170 194h1v1h-1zM170 195h1v1h-1zM170 196h1v1h-1zM167 197h1v1h-1zM170 197h1v1h-1zM167 198h1v1h-1zM170 198h1v1h-1zM168 199h2v1h-2zM173 192h4v1h-4zM173 193h1v1h-1zM177 193h1v1h-1zM173 194h1v1h-1zM177 194h1v1h-1zM173 195h1v1h-1zM177 195h1v1h-1zM173 196h4v1h-4zM173 197h1v1h-1zM173 198h1v1h-1zM173 199h1v1h-1zM181 192h3v1h-3zM180 193h1v1h-1zM184 193h1v1h-1zM184 194h1v1h-1zM182 195h2v1h-2zM184 196h1v1h-1zM184 197h1v1h-1zM180 198h1v1h-1zM184 198h1v1h-1zM181 199h3v1h-3z" fill="#000"/>
<rect x="44" y="206" width="101" height="34" fill="#000"/>
<rect x="51" y="214" width="87" height="18" fill="#fff"/>
<rect x="47" y="208" width="2" height="4" fill="#fff"/>
<rect x="47" y="235" width="2" height="4" fill="#fff"/>
<rect x="52" y="208" width="2" height="4" fill="#fff"/>
<rect x="52" y="235" width="2" height="4" fill="#fff"/>
<rect x="57" y="208" width="2" height="4" fill="#fff"/>
<rect x="57" y="235" width="2" height="4" fill="#fff"/>
<rect x="62" y="208" width="2" height="4" fill="#fff"/>
<rect x="62" y="235" width="2" height="4" fill="#fff"/>
<rect x="67" y="208" width="2" height="4" fill="#fff"/>
<rect x="67" y="235" width="2" height="4" fill="#fff"/>
<rect x="72" y="208" width="2" height="4" fill="#fff"/>
<rect x="72" y="235" width="2" height="4" fill="#fff"/>
<rect x="77" y="208" width="2" height="4" fill="#fff"/>
<rect x="77" y="235" width="2" height="4" fill="#fff"/>
<rect x="82" y="208" width="2" height="4" fill="#fff"/>
<rect x="82" y="235" width="2" height="4" fill="#fff"/>
<rect x="87" y="208" width="2" height="4" fill="#fff"/>
<rect x="87" y="235" width="2" height="4" fill="#fff"/>
<rect x="92" y="208" width="2" height="4" fill="#fff"/>
<rect x="92" y="235" width="2" height="4" fill="#fff"/>
<rect x="96" y="208" width="3" height="4" fill="#fff"/>
<rect x="96" y="235" width="3" height="4" fill="#fff"/>
<rect x="101" y="208" width="3" height="4" fill="#fff"/>
<rect x="101" y="235" width="3" height="4" fill="#fff"/>
<rect x="106" y="208" width="3" height="4" fill="#fff"/>
<rect x="106" y="235" width="3" height="4" fill="#fff"/>
<rect x="111" y="208" width="3" height="4" fill="#fff"/>
<rect x="111" y="235" width="3" height="4" fill="#fff"/>
<rect x="116" y="208" width="3" height="4" fill="#fff"/>
<rect x="116" y="235" width="3" height="4" fill="#fff"/>
<rect x="121" y="208" width="3" height="4" fill="#fff"/>
<rect x="121" y="235" width="3" height="4" fill="#fff"/>
<rect x="126" y="208" width="3" height="4" fill="#fff"/>
<rect x="126" y="235" width="3" height="4" fill="#fff"/>
<rect x="131" y="208" width="3" height="4" fill="#fff"/>
<rect x="131" y="235" width="3" height="4" fill="#fff"/>
<rect x="136" y="208" width="3" height="4" fill="#fff"/>
<rect x="136" y="235" width="3" height="4" fill="#fff"/>
<rect x="141" y="208" width="2" height="4" fill="#fff"/>
<rect x="141" y="235" width="2" height="4" fill="#fff"/>
<rect x="92" y="214" width="5" height="18" fill="#000"/>
<rect x="83" y="215" width="23" height="16" fill="#000"/>
<rect x="82" y="216" width="25" height="14" fill="#000"/>
<rect x="81" y="217" width="27" height="12" fill="#000"/>
<rect x="83" y="217" width="23" height="12" fill="#fff"/>
<path d="M84 219h1v1h-1zM89 219h1v1h-1zM84 220h2v1h-2zM89 220h1v1h-1zM84 221h1v1h-1zM86 221h1v1h-1zM89 221h1v1h-1zM84 222h1v1h-1zM86 222h1v1h-1zM89 222h1v1h-1zM84 223h1v1h-1zM87 223h1v1h-1zM89 223h1v1h-1zM84 224h1v1h-1zM87 224h1v1h-1zM89 224h1v1h-1zM84 225h1v1h-1zM88 225h2v1h-2zM84 226h1v1h-1zM89 226h1v1h-1zM92 219h4v1h-4zM92 220h1v1h-1zM96 220h1v1h-1zM92 221h1v1h-1zM96 221h1v1h-1zM92 222h1v1h-1zM96 222h1v1h-1zM92 223h4v1h-4zM92 224h1v1h-1zM92 225h1v1h-1zM92 226h1v1h-1zM99 219h1v1h-1zM104 219h1v1h-1zM99 220h1v1h-1zM104 220h1v1h-1zM99 221h1v1h-1zM104 221h1v1h-1zM99 222h1v1h-1zM104 222h1v1h-1zM99 223h1v1h-1zM104 223h1v1h-1zM99 224h1v1h-1zM104 224h1v1h-1zM99 225h1v1h-1zM104 225h1v1h-1zM100 226h4v1h-4z" fill="#000"/>
<rect x="72" y="258" width="11" height="5" fill="#000"/>
<rect x="74" y="259" width="1" height="3" fill="#fff"/>
<rect x="77" y="259" width="1" height="3" fill="#fff"/>
<rect x="90" y="258" width="11" height="5" fill="#000"/>
<rect x="95" y="259" width="1" height="3" fill="#fff"/>
<rect x="33" y="252" width="27" height="15" fill="#000"/>
<rect x="32" y="253" width="29" height="13" fill="#000"/>
<rect x="34" y="254" width="25" height="11" fill="#fff"/>
<polygon points="61.0,263.2 65.5,262.0 70.5,262.0 70.5,261.0 72.0,261.0 72.0,259.0 70.5,259.0 70.5,258.0 65.5,258.0 61.0,256.8" fill="#000"/>
<polygon points="58.4,262.5 61.0,262.5 66.0,260.0 61.0,257.5 58.4,257.5" fill="#fff"/>
<path d="M40 256h1v1h-1zM40 257h1v1h-1zM40 258h1v1h-1zM40 259h1v1h-1zM40 260h1v1h-1zM37 261h1v1h-1zM40 261h1v1h-1zM37 262h1v1h-1zM40 262h1v1h-1zM38 263h2v1h-2zM42 256h4v1h-4zM42 257h1v1h-1zM46 257h1v1h-1zM42 258h1v1h-1zM46 258h1v1h-1zM42 259h1v1h-1zM46 259h1v1h-1zM42 260h4v1h-4zM42 261h1v1h-1zM42 262h1v1h-1zM42 263h1v1h-1zM50 256h3v1h-3zM49 257h1v1h-1zM53 257h1v1h-1zM49 258h1v1h-1zM49 259h1v1h-1zM51 259h2v1h-2zM49 260h2v1h-2zM53 260h1v1h-1zM49 261h1v1h-1zM53 261h1v1h-1zM49 262h1v1h-1zM53 262h1v1h-1zM50 263h3v1h-3z" fill="#000"/>
<rect x="64" y="268" width="26" height="15" fill="#000"/>
<rect x="63" y="269" width="28" height="13" fill="#000"/>
<rect x="65" y="270" width="24" height="11" fill="#fff"/>
<polygon points="90.91,271.26 92.21,268.38 95.5,264.82 95.5,264.82 96.18,264.09 93.82,261.91 93.15,262.65 93.15,262.65 89.86,266.21 87.09,267.74" fill="#000"/>
<polygon points="88.17,271.73 89.66,270.11 91.37,266.93 88.34,268.89 86.85,270.51" fill="#fff"/>
<path d="M70 271h1v1h-1zM70 272h1v1h-1zM70 273h1v1h-1zM70 274h1v1h-1zM70 275h1v1h-1zM67 276h1v1h-1zM70 276h1v1h-1zM67 277h1v1h-1zM70 277h1v1h-1zM68 278h2v1h-2zM73 271h4v1h-4zM73 272h1v1h-1zM77 272h1v1h-1zM73 273h1v1h-1zM77 273h1v1h-1zM73 274h1v1h-1zM77 274h1v1h-1zM73 275h4v1h-4zM73 276h1v1h-1zM73 277h1v1h-1zM73 278h1v1h-1zM81 271h3v1h-3zM80 272h1v1h-1zM84 272h1v1h-1zM80 273h1v1h-1zM84 273h1v1h-1zM81 274h3v1h-3zM80 275h1v1h-1zM84 275h1v1h-1zM80 276h1v1h-1zM84 276h1v1h-1zM80 277h1v1h-1zM84 277h1v1h-1zM81 278h3v1h-3z" fill="#000"/>
<rect x="114" y="269" width="49" height="48" fill="#000"/>
<rect x="115" y="270" width="47" height="46" fill="#fff"/>
<rect x="120" y="274" width="37" height="37" fill="#000"/>
<rect x="115" y="270" width="6" height="4" fill="#000"/>
<rect x="156" y="270" width="6" height="5" fill="#000"/>
<rect x="157" y="311" width="5" height="5" fill="#000"/>
<rect x="136" y="270" width="1" height="4" fill="#000"/>
<rect x="127" y="287" width="22" height="11" fill="#fff"/>
<polygon points="120,308 120,311 123,311" fill="#fff"/>
<polygon points="113.5,313.5 113.5,317.5 117.5,317.5" fill="#fff"/>
<polygon points="114,312.5 115,312.5 118.5,316 118.5,317 117.5,317 114,313.5" fill="#000"/>
<rect x="116" y="311" width="3" height="5" fill="#000"/>
<rect x="115" y="312" width="5" height="3" fill="#000"/>
<rect x="117" y="313" width="1" height="1" fill="#fff"/>
<rect x="118" y="311" width="1" height="1" fill="#fff"/>
<path d="M129 289h3v1h-3zM128 290h1v1h-1zM132 290h1v1h-1zM128 291h1v1h-1zM128 292h1v1h-1zM128 293h1v1h-1zM128 294h1v1h-1zM128 295h1v1h-1zM132 295h1v1h-1zM129 296h3v1h-3zM135 289h4v1h-4zM135 290h1v1h-1zM139 290h1v1h-1zM135 291h1v1h-1zM139 291h1v1h-1zM135 292h1v1h-1zM139 292h1v1h-1zM135 293h4v1h-4zM135 294h1v1h-1zM135 295h1v1h-1zM135 296h1v1h-1zM142 289h1v1h-1zM147 289h1v1h-1zM142 290h1v1h-1zM147 290h1v1h-1zM142 291h1v1h-1zM147 291h1v1h-1zM142 292h1v1h-1zM147 292h1v1h-1zM142 293h1v1h-1zM147 293h1v1h-1zM142 294h1v1h-1zM147 294h1v1h-1zM142 295h1v1h-1zM147 295h1v1h-1zM143 296h4v1h-4z" fill="#000"/>
<rect x="304" y="106" width="11" height="6" fill="#000"/>
<rect x="305" y="107" width="1" height="4" fill="#fff"/>
<rect x="309" y="107" width="1" height="4" fill="#fff"/>
<rect x="294" y="77" width="33" height="16" fill="#000"/>
<rect x="293" y="78" width="35" height="14" fill="#000"/>
<rect x="295" y="79" width="31" height="12" fill="#fff"/>
<polygon points="308.2,93.0 309.0,96.5 309.0,99.5 310.0,99.5 310.0,106.0 312.0,106.0 312.0,99.5 313.0,99.5 313.0,96.5 313.8,93.0" fill="#000"/>
<polygon points="310.0,90.4 310.0,93.0 311.0,97.0 312.0,93.0 312.0,90.4" fill="#fff"/>
<path d="M301 81h1v1h-1zM301 82h1v1h-1zM301 83h1v1h-1zM301 84h1v1h-1zM301 85h1v1h-1zM298 86h1v1h-1zM301 86h1v1h-1zM298 87h1v1h-1zM301 87h1v1h-1zM299 88h2v1h-2zM304 81h4v1h-4zM304 82h1v1h-1zM308 82h1v1h-1zM304 83h1v1h-1zM308 83h1v1h-1zM304 84h1v1h-1zM308 84h1v1h-1zM304 85h4v1h-4zM304 86h1v1h-1zM304 87h1v1h-1zM304 88h1v1h-1zM313 81h1v1h-1zM312 82h2v1h-2zM311 83h1v1h-1zM313 83h1v1h-1zM313 84h1v1h-1zM313 85h1v1h-1zM313 86h1v1h-1zM313 87h1v1h-1zM313 88h1v1h-1zM318 81h3v1h-3zM317 82h1v1h-1zM321 82h1v1h-1zM317 83h1v1h-1zM321 83h1v1h-1zM317 84h1v1h-1zM321 84h1v1h-1zM317 85h1v1h-1zM321 85h1v1h-1zM317 86h1v1h-1zM321 86h1v1h-1zM317 87h1v1h-1zM321 87h1v1h-1zM318 88h3v1h-3z" fill="#000"/>
<rect x="300" y="137" width="15" height="6" fill="#000"/>
<rect x="305" y="138" width="1" height="4" fill="#fff"/>
<rect x="309" y="138" width="1" height="4" fill="#fff"/>
<rect x="311" y="139" width="2" height="2" fill="#fff"/>
<rect x="304" y="146" width="11" height="6" fill="#000"/>
<rect x="305" y="147" width="1" height="4" fill="#fff"/>
<rect x="309" y="147" width="1" height="4" fill="#fff"/>
<rect x="328" y="132" width="27" height="16" fill="#000"/>
<rect x="327" y="133" width="29" height="14" fill="#000"/>
<rect x="329" y="134" width="25" height="12" fill="#fff"/>
<polygon points="327.0,136.8 322.5,138.0 317.5,138.0 317.5,139.0 315.0,139.0 315.0,141.0 317.5,141.0 317.5,142.0 322.5,142.0 327.0,143.2" fill="#000"/>
<polygon points="329.6,137.5 327.0,137.5 322.0,140.0 327.0,142.5 329.6,142.5" fill="#fff"/>
<path d="M334 136h1v1h-1zM334 137h1v1h-1zM334 138h1v1h-1zM334 139h1v1h-1zM334 140h1v1h-1zM331 141h1v1h-1zM334 141h1v1h-1zM331 142h1v1h-1zM334 142h1v1h-1zM332 143h2v1h-2zM337 136h4v1h-4zM337 137h1v1h-1zM341 137h1v1h-1zM337 138h1v1h-1zM341 138h1v1h-1zM337 139h1v1h-1zM341 139h1v1h-1zM337 140h4v1h-4zM337 141h1v1h-1zM337 142h1v1h-1zM337 143h1v1h-1zM345 136h4v1h-4zM345 137h1v1h-1zM344 138h1v1h-1zM344 139h4v1h-4zM348 140h1v1h-1zM348 141h1v1h-1zM344 142h1v1h-1zM348 142h1v1h-1zM345 143h3v1h-3z" fill="#000"/>
<rect x="296" y="164" width="26" height="16" fill="#000"/>
<rect x="295" y="165" width="28" height="14" fill="#000"/>
<rect x="297" y="166" width="23" height="11" fill="#fff"/>
<polygon points="312.8,164.0 312.0,160.5 312.0,157.5 311.0,157.5 311.0,152.0 309.0,152.0 309.0,157.5 308.0,157.5 308.0,160.5 307.2,164.0" fill="#000"/>
<polygon points="311.0,166.6 311.0,164.0 310.0,160.0 309.0,164.0 309.0,166.6" fill="#fff"/>
<path d="M303 167h1v1h-1zM303 168h1v1h-1zM303 169h1v1h-1zM303 170h1v1h-1zM303 171h1v1h-1zM300 172h1v1h-1zM303 172h1v1h-1zM300 173h1v1h-1zM303 173h1v1h-1zM301 174h2v1h-2zM305 167h4v1h-4zM305 168h1v1h-1zM309 168h1v1h-1zM305 169h1v1h-1zM309 169h1v1h-1zM305 170h1v1h-1zM309 170h1v1h-1zM305 171h4v1h-4zM305 172h1v1h-1zM305 173h1v1h-1zM305 174h1v1h-1zM315 167h1v1h-1zM314 168h2v1h-2zM313 169h1v1h-1zM315 169h1v1h-1zM313 170h1v1h-1zM315 170h1v1h-1zM312 171h1v1h-1zM315 171h1v1h-1zM312 172h5v1h-5zM315 173h1v1h-1zM315 174h1v1h-1z" fill="#000"/>
<rect x="499" y="294" width="15" height="5" fill="#000"/>
<rect x="503" y="295" width="1" height="3" fill="#fff"/>
<rect x="508" y="295" width="1" height="3" fill="#fff"/>
<rect x="510" y="296" width="2" height="1" fill="#fff"/>
<rect x="472" y="294" width="16" height="5" fill="#000"/>
<rect x="477" y="295" width="1" height="3" fill="#fff"/>
<rect x="482" y="295" width="1" height="3" fill="#fff"/>
<rect x="486" y="295" width="1" height="3" fill="#fff"/>
<rect x="484" y="296" width="1" height="1" fill="#fff"/>
<rect x="528" y="294" width="16" height="5" fill="#000"/>
<rect x="533" y="295" width="1" height="3" fill="#fff"/>
<rect x="538" y="295" width="1" height="3" fill="#fff"/>
<rect x="542" y="295" width="1" height="3" fill="#fff"/>
<rect x="540" y="296" width="1" height="1" fill="#fff"/>
<rect x="495" y="266" width="23" height="16" fill="#000"/>
<rect x="494" y="267" width="25" height="14" fill="#000"/>
<rect x="493" y="268" width="27" height="12" fill="#000"/>
<rect x="495" y="268" width="23" height="11" fill="#fff"/>
<polygon points="504.2,282.0 505.0,285.5 505.0,288.5 506.0,288.5 506.0,294.0 508.0,294.0 508.0,288.5 509.0,288.5 509.0,285.5 509.8,282.0" fill="#000"/>
<polygon points="506.0,279.4 506.0,282.0 507.0,286.0 508.0,282.0 508.0,279.4" fill="#fff"/>
<path d="M501 270h1v1h-1zM501 271h1v1h-1zM501 272h1v1h-1zM501 273h1v1h-1zM501 274h1v1h-1zM498 275h1v1h-1zM501 275h1v1h-1zM498 276h1v1h-1zM501 276h1v1h-1zM499 277h2v1h-2zM506 270h1v1h-1zM505 271h2v1h-2zM504 272h1v1h-1zM506 272h1v1h-1zM506 273h1v1h-1zM506 274h1v1h-1zM506 275h1v1h-1zM506 276h1v1h-1zM506 277h1v1h-1zM511 270h3v1h-3zM510 271h1v1h-1zM514 271h1v1h-1zM510 272h1v1h-1zM514 272h1v1h-1zM511 273h3v1h-3zM510 274h1v1h-1zM514 274h1v1h-1zM510 275h1v1h-1zM514 275h1v1h-1zM510 276h1v1h-1zM514 276h1v1h-1zM511 277h3v1h-3z" fill="#000"/>
<rect x="433" y="288" width="27" height="16" fill="#000"/>
<rect x="432" y="289" width="29" height="14" fill="#000"/>
<rect x="434" y="290" width="25" height="11" fill="#fff"/>
<polygon points="461.0,299.2 465.5,298.0 470.5,298.0 470.5,297.0 472.0,297.0 472.0,295.0 470.5,295.0 470.5,294.0 465.5,294.0 461.0,292.8" fill="#000"/>
<polygon points="458.4,298.5 461.0,298.5 466.0,296.0 461.0,293.5 458.4,293.5" fill="#fff"/>
<path d="M438 292h3v1h-3zM437 293h1v1h-1zM441 293h1v1h-1zM437 294h1v1h-1zM438 295h2v1h-2zM440 296h1v1h-1zM441 297h1v1h-1zM437 298h1v1h-1zM441 298h1v1h-1zM438 299h3v1h-3zM443 292h1v1h-1zM448 292h1v1h-1zM453 292h1v1h-1zM443 293h1v1h-1zM448 293h1v1h-1zM453 293h1v1h-1zM444 294h1v1h-1zM447 294h1v1h-1zM449 294h1v1h-1zM452 294h1v1h-1zM444 295h1v1h-1zM447 295h1v1h-1zM449 295h1v1h-1zM452 295h1v1h-1zM444 296h1v1h-1zM447 296h1v1h-1zM449 296h1v1h-1zM452 296h1v1h-1zM444 297h1v1h-1zM447 297h1v1h-1zM449 297h1v1h-1zM452 297h1v1h-1zM445 298h1v1h-1zM451 298h1v1h-1zM445 299h1v1h-1zM451 299h1v1h-1zM455 292h1v1h-1zM454 293h2v1h-2zM453 294h1v1h-1zM455 294h1v1h-1zM455 295h1v1h-1zM455 296h1v1h-1zM455 297h1v1h-1zM455 298h1v1h-1zM455 299h1v1h-1z" fill="#000"/>
<circle cx="589.5" cy="315.5" r="18.5" fill="none" stroke="#000" stroke-width="1"/>
<rect x="583" y="285" width="13" height="13" fill="#000"/>
<polygon points="586,285 592,285 592,324 589.6,328.2 588.4,328.2 586,324" fill="#000"/>
<polygon points="587,286 591,286 591,318 587,318" fill="#fff"/>
<polygon points="587,319 591,319 591,323.6 589,327.2 587,323.6" fill="#fff"/>
<rect x="556" y="288" width="27" height="15" fill="#000"/>
<rect x="555" y="289" width="29" height="13" fill="#000"/>
<rect x="557" y="290" width="25" height="11" fill="#fff"/>
<polygon points="555.0,292.8 550.5,294.0 545.5,294.0 545.5,295.0 544.0,295.0 544.0,297.0 545.5,297.0 545.5,298.0 550.5,298.0 555.0,299.2" fill="#000"/>
<polygon points="557.6,293.5 555.0,293.5 550.0,296.0 555.0,298.5 557.6,298.5" fill="#fff"/>
<path d="M562 292h1v1h-1zM562 293h1v1h-1zM562 294h1v1h-1zM562 295h1v1h-1zM562 296h1v1h-1zM559 297h1v1h-1zM562 297h1v1h-1zM559 298h1v1h-1zM562 298h1v1h-1zM560 299h2v1h-2zM565 292h4v1h-4zM565 293h1v1h-1zM569 293h1v1h-1zM565 294h1v1h-1zM569 294h1v1h-1zM565 295h1v1h-1zM569 295h1v1h-1zM565 296h4v1h-4zM565 297h1v1h-1zM565 298h1v1h-1zM565 299h1v1h-1zM572 292h5v1h-5zM576 293h1v1h-1zM575 294h1v1h-1zM575 295h1v1h-1zM574 296h1v1h-1zM574 297h1v1h-1zM573 298h1v1h-1zM573 299h1v1h-1z" fill="#000"/>
<rect x="472" y="316" width="71" height="34" fill="#000"/>
<rect x="492" y="327" width="32" height="11" fill="#fff"/>
<path d="M496 329h3v1h-3zM496 330h1v1h-1zM498 330h1v1h-1zM496 331h1v1h-1zM498 331h1v1h-1zM496 332h3v1h-3zM496 333h1v1h-1zM498 333h1v1h-1zM496 334h1v1h-1zM498 334h1v1h-1zM496 335h1v1h-1zM498 335h1v1h-1zM496 336h3v1h-3zM503 329h1v1h-1zM503 330h1v1h-1zM503 331h1v1h-1zM503 332h1v1h-1zM503 333h1v1h-1zM503 334h1v1h-1zM503 335h1v1h-1zM503 336h1v1h-1zM507 329h2v1h-2zM506 330h1v1h-1zM509 330h1v1h-1zM506 331h1v1h-1zM509 331h1v1h-1zM506 332h1v1h-1zM509 332h1v1h-1zM506 333h1v1h-1zM509 333h1v1h-1zM506 334h1v1h-1zM509 334h1v1h-1zM506 335h1v1h-1zM509 335h1v1h-1zM507 336h2v1h-2zM514 329h3v1h-3zM513 330h1v1h-1zM517 330h1v1h-1zM513 331h1v1h-1zM514 332h2v1h-2zM516 333h1v1h-1zM517 334h1v1h-1zM513 335h1v1h-1zM517 335h1v1h-1zM514 336h3v1h-3z" fill="#000"/>
<rect x="455" y="355" width="16" height="6" fill="#000"/>
<rect x="460" y="356" width="1" height="4" fill="#fff"/>
<rect x="465" y="356" width="1" height="4" fill="#fff"/>
<rect x="469" y="356" width="1" height="4" fill="#fff"/>
<rect x="467" y="357" width="1" height="2" fill="#fff"/>
<rect x="411" y="350" width="32" height="16" fill="#000"/>
<rect x="410" y="351" width="34" height="14" fill="#000"/>
<rect x="413" y="353" width="29" height="11" fill="#fff"/>
<polygon points="444.0,361.2 448.5,360.0 453.5,360.0 453.5,359.0 455.0,359.0 455.0,357.0 453.5,357.0 453.5,356.0 448.5,356.0 444.0,354.8" fill="#000"/>
<polygon points="441.4,360.5 444.0,360.5 449.0,358.0 444.0,355.5 441.4,355.5" fill="#fff"/>
<path d="M418 353h1v1h-1zM418 354h1v1h-1zM418 355h1v1h-1zM418 356h1v1h-1zM418 357h1v1h-1zM415 358h1v1h-1zM418 358h1v1h-1zM415 359h1v1h-1zM418 359h1v1h-1zM416 360h2v1h-2zM421 353h4v1h-4zM421 354h1v1h-1zM425 354h1v1h-1zM421 355h1v1h-1zM425 355h1v1h-1zM421 356h1v1h-1zM425 356h1v1h-1zM421 357h4v1h-4zM421 358h1v1h-1zM421 359h1v1h-1zM421 360h1v1h-1zM430 353h1v1h-1zM429 354h2v1h-2zM428 355h1v1h-1zM430 355h1v1h-1zM430 356h1v1h-1zM430 357h1v1h-1zM430 358h1v1h-1zM430 359h1v1h-1zM430 360h1v1h-1zM435 353h1v1h-1zM434 354h2v1h-2zM433 355h1v1h-1zM435 355h1v1h-1zM435 356h1v1h-1zM435 357h1v1h-1zM435 358h1v1h-1zM435 359h1v1h-1zM435 360h1v1h-1z" fill="#000"/>
<rect x="552" y="348" width="6" height="20" fill="#000"/>
<rect x="554" y="350" width="2" height="2" fill="#fff"/>
<rect x="553" y="353" width="4" height="1" fill="#fff"/>
<rect x="553" y="357" width="4" height="1" fill="#fff"/>
<rect x="553" y="362" width="4" height="1" fill="#fff"/>
<rect x="513" y="351" width="27" height="15" fill="#000"/>
<rect x="512" y="352" width="29" height="13" fill="#000"/>
<rect x="514" y="353" width="25" height="11" fill="#fff"/>
<polygon points="541.0,361.1 547.5,360.0 549.0,360.0 549.0,359.0 552.0,359.0 552.0,358.0 549.0,358.0 549.0,357.0 547.5,357.0 541.0,355.9" fill="#000"/>
<polygon points="538.4,360.0 541.0,360.0 548.0,358.5 541.0,357.0 538.4,357.0" fill="#fff"/>
<path d="M521 354h1v1h-1zM521 355h1v1h-1zM521 356h1v1h-1zM521 357h1v1h-1zM521 358h1v1h-1zM518 359h1v1h-1zM521 359h1v1h-1zM518 360h1v1h-1zM521 360h1v1h-1zM519 361h2v1h-2zM525 354h3v1h-3zM524 355h1v1h-1zM528 355h1v1h-1zM528 356h1v1h-1zM527 357h1v1h-1zM526 358h1v1h-1zM525 359h1v1h-1zM524 360h1v1h-1zM524 361h5v1h-5zM532 354h1v1h-1zM531 355h2v1h-2zM530 356h1v1h-1zM532 356h1v1h-1zM532 357h1v1h-1zM532 358h1v1h-1zM532 359h1v1h-1zM532 360h1v1h-1zM532 361h1v1h-1z" fill="#000"/>
<rect x="609" y="344" width="24" height="30" fill="#000"/>
<rect x="607" y="349" width="2" height="20" fill="#000"/>
<polygon points="629,341 633,337 633,380 629,376" fill="#000"/>
<rect x="604" y="351" width="4" height="7" fill="#000"/>
<rect x="605" y="352" width="2" height="5" fill="#fff"/>
<rect x="604" y="360" width="4" height="7" fill="#000"/>
<rect x="605" y="361" width="2" height="5" fill="#fff"/>
<rect x="492" y="384" width="91" height="20" fill="#000"/>
<rect x="493" y="385" width="89" height="18" fill="#fff"/>
<rect x="493" y="389" width="89" height="2" fill="#000"/>
<rect x="494" y="387" width="6" height="2" fill="#000"/>
<rect x="495" y="388" width="4" height="1" fill="#fff"/>
<rect x="494" y="393" width="6" height="2" fill="#000"/>
<rect x="501" y="387" width="6" height="2" fill="#000"/>
<rect x="502" y="388" width="4" height="1" fill="#fff"/>
<rect x="501" y="393" width="6" height="2" fill="#000"/>
<rect x="509" y="387" width="6" height="2" fill="#000"/>
<rect x="510" y="388" width="4" height="1" fill="#fff"/>
<rect x="509" y="393" width="6" height="2" fill="#000"/>
<rect x="516" y="387" width="6" height="2" fill="#000"/>
<rect x="517" y="388" width="4" height="1" fill="#fff"/>
<rect x="516" y="393" width="6" height="2" fill="#000"/>
<rect x="523" y="387" width="6" height="2" fill="#000"/>
<rect x="524" y="388" width="4" height="1" fill="#fff"/>
<rect x="523" y="393" width="6" height="2" fill="#000"/>
<rect x="531" y="387" width="6" height="2" fill="#000"/>
<rect x="532" y="388" width="4" height="1" fill="#fff"/>
<rect x="531" y="393" width="6" height="2" fill="#000"/>
<rect x="538" y="387" width="6" height="2" fill="#000"/>
<rect x="539" y="388" width="4" height="1" fill="#fff"/>
<rect x="538" y="393" width="6" height="2" fill="#000"/>
<rect x="546" y="387" width="6" height="2" fill="#000"/>
<rect x="547" y="388" width="4" height="1" fill="#fff"/>
<rect x="546" y="393" width="6" height="2" fill="#000"/>
<rect x="553" y="387" width="6" height="2" fill="#000"/>
<rect x="554" y="388" width="4" height="1" fill="#fff"/>
<rect x="553" y="393" width="6" height="2" fill="#000"/>
<rect x="560" y="387" width="6" height="2" fill="#000"/>
<rect x="561" y="388" width="4" height="1" fill="#fff"/>
<rect x="560" y="393" width="6" height="2" fill="#000"/>
<rect x="568" y="387" width="6" height="2" fill="#000"/>
<rect x="569" y="388" width="4" height="1" fill="#fff"/>
<rect x="568" y="393" width="6" height="2" fill="#000"/>
<rect x="575" y="387" width="6" height="2" fill="#000"/>
<rect x="576" y="388" width="4" height="1" fill="#fff"/>
<rect x="575" y="393" width="6" height="2" fill="#000"/>
<rect x="493" y="393" width="2" height="2" fill="#000"/>
<rect x="580" y="393" width="2" height="2" fill="#000"/>
<rect x="496" y="395" width="7" height="7" fill="#000"/>
<rect x="498" y="396" width="4" height="5" fill="#fff"/>
<rect x="504" y="395" width="7" height="7" fill="#000"/>
<rect x="506" y="396" width="4" height="5" fill="#fff"/>
<rect x="511" y="395" width="7" height="7" fill="#000"/>
<rect x="513" y="396" width="4" height="5" fill="#fff"/>
<rect x="519" y="395" width="7" height="7" fill="#000"/>
<rect x="521" y="396" width="4" height="5" fill="#fff"/>
<rect x="527" y="395" width="7" height="7" fill="#000"/>
<rect x="529" y="396" width="4" height="5" fill="#fff"/>
<rect x="534" y="395" width="7" height="7" fill="#000"/>
<rect x="536" y="396" width="4" height="5" fill="#fff"/>
<rect x="542" y="395" width="7" height="7" fill="#000"/>
<rect x="544" y="396" width="4" height="5" fill="#fff"/>
<rect x="550" y="395" width="7" height="7" fill="#000"/>
<rect x="552" y="396" width="4" height="5" fill="#fff"/>
<rect x="558" y="395" width="7" height="7" fill="#000"/>
<rect x="560" y="396" width="4" height="5" fill="#fff"/>
<rect x="565" y="395" width="7" height="7" fill="#000"/>
<rect x="567" y="396" width="4" height="5" fill="#fff"/>
<rect x="573" y="395" width="7" height="7" fill="#000"/>
<rect x="575" y="396" width="4" height="5" fill="#fff"/>
<rect x="493" y="397" width="2" height="2" fill="#000"/>
<rect x="493" y="400" width="2" height="1" fill="#000"/>
<rect x="580" y="397" width="2" height="2" fill="#000"/>
<rect x="580" y="400" width="2" height="1" fill="#000"/>
<rect x="76" y="79" width="46" height="15" fill="#000"/>
<rect x="75" y="80" width="48" height="13" fill="#000"/>
<rect x="77" y="81" width="44" height="11" fill="#fff"/>
<path d="M80 83h5v1h-5zM80 84h1v1h-1zM85 84h1v1h-1zM80 85h1v1h-1zM85 85h1v1h-1zM80 86h5v1h-5zM80 87h1v1h-1zM85 87h1v1h-1zM80 88h1v1h-1zM85 88h1v1h-1zM80 89h1v1h-1zM85 89h1v1h-1zM80 90h5v1h-5zM90 83h1v1h-1zM89 84h1v1h-1zM91 84h1v1h-1zM89 85h1v1h-1zM91 85h1v1h-1zM88 86h1v1h-1zM92 86h1v1h-1zM88 87h1v1h-1zM92 87h1v1h-1zM88 88h5v1h-5zM87 89h1v1h-1zM93 89h1v1h-1zM87 90h1v1h-1zM93 90h1v1h-1zM94 83h1v1h-1zM99 83h1v1h-1zM94 84h2v1h-2zM99 84h1v1h-1zM94 85h1v1h-1zM96 85h1v1h-1zM99 85h1v1h-1zM94 86h1v1h-1zM96 86h1v1h-1zM99 86h1v1h-1zM94 87h1v1h-1zM97 87h1v1h-1zM99 87h1v1h-1zM94 88h1v1h-1zM97 88h1v1h-1zM99 88h1v1h-1zM94 89h1v1h-1zM98 89h2v1h-2zM94 90h1v1h-1zM99 90h1v1h-1zM101 83h1v1h-1zM106 83h1v1h-1zM101 84h1v1h-1zM105 84h1v1h-1zM101 85h1v1h-1zM104 85h1v1h-1zM101 86h1v1h-1zM103 86h1v1h-1zM101 87h3v1h-3zM101 88h1v1h-1zM104 88h1v1h-1zM101 89h1v1h-1zM105 89h1v1h-1zM101 90h1v1h-1zM106 90h1v1h-1zM114 83h3v1h-3zM113 84h1v1h-1zM117 84h1v1h-1zM113 85h1v1h-1zM117 85h1v1h-1zM113 86h1v1h-1zM117 86h1v1h-1zM113 87h1v1h-1zM117 87h1v1h-1zM113 88h1v1h-1zM117 88h1v1h-1zM113 89h1v1h-1zM117 89h1v1h-1zM114 90h3v1h-3z" fill="#000"/>
<rect x="200" y="79" width="46" height="15" fill="#000"/>
<rect x="199" y="80" width="48" height="13" fill="#000"/>
<rect x="201" y="81" width="44" height="11" fill="#fff"/>
<path d="M204 83h5v1h-5zM204 84h1v1h-1zM209 84h1v1h-1zM204 85h1v1h-1zM209 85h1v1h-1zM204 86h5v1h-5zM204 87h1v1h-1zM209 87h1v1h-1zM204 88h1v1h-1zM209 88h1v1h-1zM204 89h1v1h-1zM209 89h1v1h-1zM204 90h5v1h-5zM214 83h1v1h-1zM213 84h1v1h-1zM215 84h1v1h-1zM213 85h1v1h-1zM215 85h1v1h-1zM212 86h1v1h-1zM216 86h1v1h-1zM212 87h1v1h-1zM216 87h1v1h-1zM212 88h5v1h-5zM211 89h1v1h-1zM217 89h1v1h-1zM211 90h1v1h-1zM217 90h1v1h-1zM218 83h1v1h-1zM223 83h1v1h-1zM218 84h2v1h-2zM223 84h1v1h-1zM218 85h1v1h-1zM220 85h1v1h-1zM223 85h1v1h-1zM218 86h1v1h-1zM220 86h1v1h-1zM223 86h1v1h-1zM218 87h1v1h-1zM221 87h1v1h-1zM223 87h1v1h-1zM218 88h1v1h-1zM221 88h1v1h-1zM223 88h1v1h-1zM218 89h1v1h-1zM222 89h2v1h-2zM218 90h1v1h-1zM223 90h1v1h-1zM226 83h1v1h-1zM231 83h1v1h-1zM226 84h1v1h-1zM230 84h1v1h-1zM226 85h1v1h-1zM229 85h1v1h-1zM226 86h1v1h-1zM228 86h1v1h-1zM226 87h3v1h-3zM226 88h1v1h-1zM229 88h1v1h-1zM226 89h1v1h-1zM230 89h1v1h-1zM226 90h1v1h-1zM231 90h1v1h-1zM239 83h1v1h-1zM238 84h2v1h-2zM237 85h1v1h-1zM239 85h1v1h-1zM239 86h1v1h-1zM239 87h1v1h-1zM239 88h1v1h-1zM239 89h1v1h-1zM239 90h1v1h-1z" fill="#000"/>
<path d="M527 34h2v1h-2zM526 35h1v1h-1zM529 35h1v1h-1zM529 36h1v1h-1zM527 37h2v1h-2zM529 38h1v1h-1zM526 39h1v1h-1zM529 39h1v1h-1zM527 40h2v1h-2zM532 34h2v1h-2zM531 35h1v1h-1zM534 35h1v1h-1zM534 36h1v1h-1zM532 37h2v1h-2zM534 38h1v1h-1zM531 39h1v1h-1zM534 39h1v1h-1zM532 40h2v1h-2zM537 34h4v1h-4zM540 35h1v1h-1zM539 36h1v1h-1zM539 37h1v1h-1zM538 38h1v1h-1zM538 39h1v1h-1zM538 40h1v1h-1zM543 34h2v1h-2zM542 35h1v1h-1zM545 35h1v1h-1zM542 36h1v1h-1zM545 36h1v1h-1zM543 37h2v1h-2zM542 38h1v1h-1zM545 38h1v1h-1zM542 39h1v1h-1zM545 39h1v1h-1zM543 40h2v1h-2zM549 34h2v1h-2zM548 35h1v1h-1zM551 35h1v1h-1zM548 36h1v1h-1zM551 36h1v1h-1zM549 37h2v1h-2zM548 38h1v1h-1zM551 38h1v1h-1zM548 39h1v1h-1zM551 39h1v1h-1zM549 40h2v1h-2z" fill="#000"/>
</svg>
</body></html>
